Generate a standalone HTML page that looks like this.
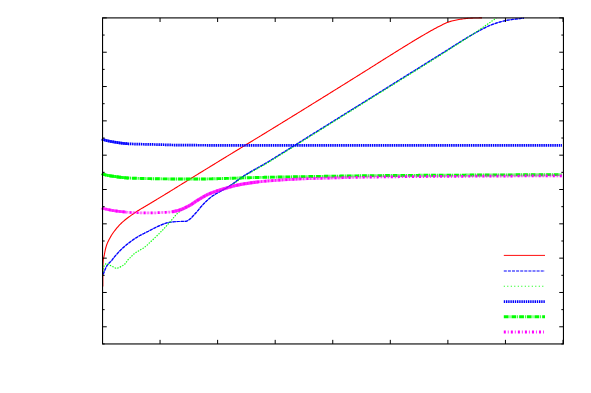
<!DOCTYPE html>
<html><head><meta charset="utf-8"><title>plot</title>
<style>
html,body{margin:0;padding:0;background:#fff;font-family:"Liberation Sans",sans-serif;}
svg{display:block;position:absolute;left:0;top:0}
</style></head>
<body>
<svg width="591" height="393" viewBox="0 0 591 393">
<rect width="591" height="393" fill="#fff"/>
<path d="M102.80,286.50 L102.80,285.28 L102.80,284.06 L102.80,282.84 L102.80,281.62 L102.80,280.40 L102.80,279.18 L102.80,277.96 L102.80,276.74 L102.80,275.52 L102.80,274.30 L102.80,273.09 L102.80,271.87 L102.80,270.65 L102.80,269.43 L102.81,268.21 L102.84,266.99 L102.88,265.76 L102.94,264.54 L103.01,263.32 L103.08,262.11 L103.17,260.90 L103.29,259.69 L103.50,258.50 L103.77,257.30 L104.06,256.11 L104.32,254.92 L104.54,253.72 L104.76,252.51 L104.98,251.31 L105.23,250.12 L105.51,248.94 L105.81,247.75 L106.15,246.58 L106.51,245.41 L106.91,244.26 L107.35,243.13 L107.85,242.02 L108.40,240.93 L108.96,239.84 L109.53,238.76 L110.11,237.69 L110.71,236.62 L111.33,235.57 L111.97,234.54 L112.65,233.53 L113.34,232.53 L114.06,231.54 L114.80,230.56 L115.56,229.60 L116.33,228.65 L117.11,227.72 L117.91,226.80 L118.72,225.89 L119.55,224.99 L120.40,224.11 L121.27,223.25 L122.15,222.41 L123.05,221.60 L123.97,220.81 L124.91,220.03 L125.86,219.27 L126.83,218.53 L127.81,217.79 L128.79,217.06 L129.78,216.34 L130.77,215.62 L131.76,214.91 L132.75,214.21 L133.75,213.51 L134.76,212.83 L135.78,212.15 L136.80,211.48 L137.82,210.82 L138.85,210.17 L139.89,209.53 L140.93,208.90 L141.98,208.28 L143.03,207.66 L144.09,207.04 L145.14,206.43 L146.19,205.81 L147.24,205.19 L148.29,204.57 L149.34,203.94 L150.38,203.31 L151.42,202.68 L152.47,202.05 L153.51,201.42 L154.56,200.79 L155.60,200.16 L156.64,199.53 L157.69,198.90 L158.73,198.26 L159.77,197.63 L160.81,197.00 L161.86,196.37 L162.90,195.73 L163.94,195.10 L164.98,194.47 L166.02,193.83 L167.07,193.20 L168.11,192.56 L169.15,191.92 L170.18,191.29 L171.22,190.65 L172.26,190.01 L173.30,189.36 L174.33,188.72 L175.37,188.08 L176.40,187.43 L177.44,186.79 L178.47,186.14 L179.51,185.50 L180.55,184.86 L181.59,184.22 L182.62,183.58 L183.66,182.94 L184.70,182.30 L185.74,181.66 L186.77,181.02 L187.81,180.38 L188.85,179.74 L189.89,179.10 L190.93,178.46 L191.96,177.82 L193.00,177.18 L194.04,176.54 L195.08,175.90 L196.12,175.26 L197.16,174.62 L198.19,173.98 L199.23,173.34 L200.27,172.71 L201.31,172.07 L202.35,171.43 L203.39,170.79 L204.43,170.15 L205.47,169.51 L206.51,168.88 L207.54,168.24 L208.58,167.60 L209.62,166.96 L210.66,166.32 L211.70,165.69 L212.74,165.05 L213.78,164.41 L214.82,163.77 L215.86,163.14 L216.90,162.50 L217.94,161.86 L218.98,161.23 L220.02,160.59 L221.06,159.95 L222.10,159.32 L223.14,158.68 L224.18,158.04 L225.22,157.41 L226.26,156.77 L227.30,156.14 L228.34,155.50 L229.38,154.87 L230.42,154.23 L231.46,153.60 L232.51,152.96 L233.55,152.33 L234.59,151.69 L235.63,151.06 L236.67,150.42 L237.71,149.79 L238.75,149.16 L239.80,148.52 L240.84,147.89 L241.88,147.25 L242.92,146.62 L243.96,145.99 L245.00,145.35 L246.05,144.72 L247.09,144.09 L248.13,143.45 L249.17,142.82 L250.21,142.19 L251.26,141.55 L252.30,140.92 L253.34,140.28 L254.38,139.65 L255.42,139.02 L256.46,138.38 L257.51,137.75 L258.55,137.11 L259.59,136.48 L260.63,135.85 L261.67,135.21 L262.71,134.58 L263.75,133.94 L264.80,133.31 L265.84,132.67 L266.88,132.04 L267.92,131.40 L268.96,130.77 L270.00,130.13 L271.04,129.49 L272.08,128.86 L273.12,128.22 L274.16,127.58 L275.20,126.95 L276.24,126.31 L277.28,125.67 L278.32,125.03 L279.36,124.40 L280.39,123.76 L281.43,123.12 L282.47,122.48 L283.51,121.84 L284.55,121.20 L285.59,120.56 L286.63,119.92 L287.66,119.28 L288.70,118.64 L289.74,118.00 L290.78,117.37 L291.82,116.73 L292.85,116.09 L293.89,115.45 L294.93,114.80 L295.97,114.16 L297.01,113.52 L298.04,112.88 L299.08,112.24 L300.12,111.60 L301.16,110.96 L302.19,110.32 L303.23,109.68 L304.27,109.04 L305.30,108.40 L306.34,107.76 L307.38,107.11 L308.42,106.47 L309.45,105.83 L310.49,105.19 L311.53,104.55 L312.56,103.90 L313.60,103.26 L314.64,102.62 L315.67,101.98 L316.71,101.34 L317.74,100.69 L318.78,100.05 L319.82,99.41 L320.85,98.76 L321.89,98.12 L322.93,97.48 L323.96,96.84 L325.00,96.19 L326.03,95.55 L327.07,94.91 L328.11,94.26 L329.14,93.62 L330.18,92.98 L331.21,92.33 L332.25,91.69 L333.28,91.04 L334.32,90.40 L335.35,89.76 L336.39,89.11 L337.43,88.47 L338.46,87.82 L339.50,87.18 L340.53,86.54 L341.57,85.89 L342.60,85.25 L343.64,84.60 L344.67,83.96 L345.71,83.31 L346.74,82.67 L347.78,82.02 L348.81,81.38 L349.85,80.73 L350.88,80.09 L351.92,79.44 L352.95,78.80 L353.99,78.15 L355.02,77.51 L356.05,76.86 L357.09,76.22 L358.12,75.57 L359.16,74.93 L360.19,74.28 L361.23,73.63 L362.26,72.99 L363.29,72.34 L364.33,71.69 L365.36,71.04 L366.39,70.40 L367.43,69.75 L368.46,69.10 L369.49,68.45 L370.52,67.80 L371.55,67.15 L372.58,66.50 L373.62,65.85 L374.65,65.20 L375.68,64.55 L376.71,63.90 L377.74,63.24 L378.77,62.59 L379.80,61.94 L380.84,61.29 L381.87,60.64 L382.90,59.99 L383.93,59.34 L384.96,58.69 L385.99,58.04 L387.03,57.39 L388.06,56.75 L389.09,56.10 L390.13,55.45 L391.16,54.80 L392.19,54.16 L393.23,53.51 L394.26,52.86 L395.30,52.22 L396.33,51.58 L397.37,50.93 L398.40,50.29 L399.44,49.65 L400.48,49.01 L401.51,48.36 L402.55,47.72 L403.59,47.08 L404.63,46.44 L405.66,45.80 L406.70,45.16 L407.74,44.52 L408.78,43.89 L409.82,43.25 L410.86,42.61 L411.90,41.98 L412.94,41.34 L413.99,40.71 L415.03,40.08 L416.07,39.45 L417.12,38.83 L418.17,38.20 L419.22,37.58 L420.27,36.96 L421.32,36.34 L422.37,35.73 L423.42,35.11 L424.48,34.50 L425.53,33.89 L426.59,33.28 L427.64,32.67 L428.70,32.06 L429.76,31.45 L430.82,30.85 L431.89,30.26 L432.96,29.67 L434.03,29.09 L435.10,28.51 L436.17,27.93 L437.25,27.36 L438.33,26.79 L439.42,26.24 L440.51,25.70 L441.60,25.15 L442.69,24.59 L443.79,24.04 L444.89,23.51 L446.00,23.00 L447.12,22.53 L448.26,22.11 L449.41,21.74 L450.58,21.40 L451.75,21.08 L452.94,20.78 L454.14,20.50 L455.33,20.24 L456.52,19.99 L457.72,19.76 L458.92,19.53 L460.12,19.32 L461.33,19.13 L462.53,18.96 L463.74,18.81 L464.95,18.66 L466.16,18.51 L467.38,18.39 L468.59,18.28 L469.81,18.21 L471.03,18.16 L472.24,18.11 L473.46,18.07 L474.68,18.03 L475.90,17.99 L477.12,17.96 L478.34,17.93 L479.56,17.92 L480.78,17.90 L482.00,17.90" fill="none" stroke="#ff0000" stroke-width="1.1"/>
<path d="M103.30,274.40 L103.66,273.19 L104.07,271.99 L104.52,270.82 L104.99,269.66 L105.50,268.52 L106.04,267.38 L106.64,266.27 L107.30,265.20 L108.03,264.21 L108.87,263.28 L109.77,262.39 L110.67,261.49 L111.52,260.56 L112.32,259.60 L113.10,258.61 L113.88,257.62 L114.67,256.65 L115.49,255.70 L116.31,254.74 L117.14,253.80 L117.97,252.86 L118.82,251.93 L119.69,251.02 L120.57,250.13 L121.46,249.26 L122.38,248.40 L123.31,247.55 L124.25,246.71 L125.20,245.89 L126.16,245.08 L127.14,244.28 L128.12,243.50 L129.11,242.73 L130.10,241.97 L131.11,241.22 L132.13,240.48 L133.16,239.75 L134.20,239.04 L135.25,238.34 L136.30,237.66 L137.37,237.00 L138.44,236.36 L139.53,235.74 L140.63,235.14 L141.74,234.56 L142.86,233.98 L143.98,233.42 L145.11,232.85 L146.23,232.29 L147.36,231.73 L148.48,231.16 L149.60,230.58 L150.71,230.00 L151.82,229.41 L152.94,228.82 L154.05,228.24 L155.17,227.67 L156.30,227.12 L157.44,226.58 L158.58,226.08 L159.73,225.59 L160.89,225.09 L162.06,224.59 L163.24,224.11 L164.42,223.65 L165.61,223.25 L166.81,222.90 L168.02,222.63 L169.24,222.42 L170.47,222.23 L171.72,222.05 L172.97,221.88 L174.23,221.74 L175.49,221.63 L176.74,221.55 L178.00,221.50 L179.26,221.48 L180.53,221.47 L181.81,221.46 L183.07,221.45 L184.32,221.43 L185.53,221.40 L186.73,221.08 L187.88,220.48 L188.95,219.84 L189.96,219.08 L190.90,218.26 L191.78,217.36 L192.63,216.43 L193.49,215.50 L194.34,214.58 L195.19,213.66 L196.04,212.73 L196.88,211.80 L197.70,210.85 L198.51,209.89 L199.30,208.91 L200.09,207.94 L200.89,206.96 L201.70,206.00 L202.53,205.07 L203.38,204.15 L204.25,203.24 L205.14,202.34 L206.03,201.46 L206.95,200.59 L207.87,199.76 L208.82,198.93 L209.79,198.12 L210.77,197.33 L211.77,196.57 L212.79,195.84 L213.83,195.15 L214.90,194.49 L215.98,193.85 L217.07,193.22 L218.16,192.59 L219.25,191.98 L220.36,191.37 L221.46,190.78 L222.57,190.18 L223.67,189.57 L224.76,188.95 L225.83,188.30 L226.90,187.64 L227.96,186.97 L229.02,186.29 L230.07,185.61 L231.12,184.91 L232.16,184.21 L233.20,183.51 L234.24,182.80 L235.26,182.07 L236.28,181.33 L237.29,180.58 L238.29,179.82 L239.30,179.07 L240.31,178.32 L241.33,177.59 L242.35,176.87 L243.40,176.17 L244.45,175.49 L245.51,174.83 L246.59,174.18 L247.66,173.53 L248.75,172.89 L249.83,172.26 L250.92,171.63 L252.01,171.00 L253.10,170.37 L254.19,169.75 L255.28,169.13 L256.38,168.52 L257.48,167.91 L258.58,167.31 L259.68,166.70 L260.78,166.10 L261.88,165.48 L262.97,164.87 L264.06,164.25 L265.15,163.61 L266.23,162.98 L267.30,162.33 L268.38,161.68 L269.45,161.03 L270.52,160.37 L271.59,159.71 L272.65,159.04 L273.72,158.38 L274.78,157.71 L275.85,157.04 L276.91,156.38 L277.98,155.71 L279.04,155.04 L280.11,154.38 L281.18,153.72 L282.24,153.06 L283.31,152.39 L284.37,151.73 L285.44,151.07 L286.51,150.40 L287.57,149.74 L288.64,149.07 L289.70,148.41 L290.77,147.74 L291.83,147.08 L292.90,146.41 L293.96,145.74 L295.03,145.08 L296.09,144.41 L297.16,143.75 L298.22,143.08 L299.29,142.42 L300.35,141.75 L301.42,141.09 L302.49,140.42 L303.55,139.76 L304.62,139.09 L305.68,138.43 L306.75,137.77 L307.81,137.10 L308.88,136.44 L309.94,135.77 L311.01,135.11 L312.08,134.44 L313.14,133.78 L314.21,133.11 L315.27,132.45 L316.34,131.78 L317.40,131.12 L318.47,130.45 L319.53,129.79 L320.60,129.13 L321.67,128.46 L322.73,127.80 L323.80,127.13 L324.86,126.47 L325.93,125.80 L326.99,125.14 L328.06,124.47 L329.13,123.81 L330.19,123.14 L331.26,122.48 L332.32,121.81 L333.39,121.15 L334.45,120.49 L335.52,119.82 L336.58,119.16 L337.65,118.49 L338.72,117.83 L339.78,117.16 L340.85,116.50 L341.91,115.83 L342.98,115.17 L344.04,114.50 L345.11,113.84 L346.17,113.17 L347.24,112.51 L348.31,111.85 L349.37,111.18 L350.44,110.52 L351.50,109.85 L352.57,109.19 L353.63,108.52 L354.70,107.86 L355.77,107.19 L356.83,106.53 L357.90,105.86 L358.96,105.20 L360.03,104.53 L361.09,103.87 L362.16,103.21 L363.22,102.54 L364.29,101.88 L365.36,101.21 L366.42,100.55 L367.49,99.88 L368.55,99.22 L369.62,98.55 L370.68,97.89 L371.75,97.22 L372.81,96.56 L373.88,95.89 L374.95,95.23 L376.01,94.57 L377.08,93.90 L378.14,93.24 L379.21,92.57 L380.27,91.91 L381.34,91.24 L382.41,90.58 L383.47,89.91 L384.54,89.25 L385.60,88.58 L386.67,87.92 L387.73,87.25 L388.80,86.59 L389.86,85.93 L390.93,85.26 L392.00,84.60 L393.06,83.93 L394.13,83.27 L395.19,82.60 L396.26,81.94 L397.32,81.27 L398.39,80.61 L399.45,79.94 L400.52,79.28 L401.59,78.62 L402.65,77.95 L403.72,77.29 L404.78,76.62 L405.85,75.96 L406.91,75.29 L407.98,74.63 L409.04,73.96 L410.11,73.30 L411.18,72.63 L412.24,71.97 L413.31,71.30 L414.37,70.64 L415.44,69.98 L416.50,69.31 L417.57,68.65 L418.64,67.98 L419.70,67.32 L420.77,66.65 L421.83,65.99 L422.90,65.32 L423.96,64.66 L425.03,63.99 L426.09,63.33 L427.16,62.66 L428.23,62.00 L429.29,61.34 L430.36,60.67 L431.42,60.01 L432.49,59.34 L433.55,58.68 L434.62,58.01 L435.68,57.35 L436.75,56.68 L437.82,56.02 L438.88,55.35 L439.95,54.69 L441.01,54.02 L442.08,53.36 L443.14,52.69 L444.20,52.02 L445.26,51.34 L446.32,50.67 L447.38,50.00 L448.44,49.32 L449.50,48.65 L450.56,47.97 L451.62,47.30 L452.68,46.62 L453.74,45.95 L454.80,45.27 L455.86,44.60 L456.93,43.93 L457.99,43.26 L459.05,42.59 L460.12,41.93 L461.19,41.27 L462.25,40.60 L463.32,39.95 L464.39,39.29 L465.47,38.64 L466.54,37.99 L467.62,37.35 L468.70,36.71 L469.78,36.07 L470.86,35.44 L471.95,34.81 L473.04,34.18 L474.13,33.55 L475.22,32.93 L476.31,32.31 L477.41,31.70 L478.51,31.10 L479.62,30.50 L480.73,29.91 L481.84,29.33 L482.96,28.77 L484.08,28.20 L485.21,27.64 L486.34,27.09 L487.47,26.55 L488.62,26.02 L489.77,25.52 L490.93,25.05 L492.09,24.59 L493.27,24.15 L494.45,23.72 L495.64,23.31 L496.84,22.91 L498.04,22.54 L499.24,22.19 L500.45,21.86 L501.66,21.54 L502.88,21.23 L504.11,20.94 L505.33,20.66 L506.57,20.41 L507.80,20.18 L509.03,19.97 L510.27,19.78 L511.52,19.59 L512.76,19.42 L514.01,19.26 L515.26,19.10 L516.50,18.95 L517.75,18.81 L519.00,18.67 L520.25,18.54 L521.50,18.42 L522.75,18.31 L524.00,18.20" fill="none" stroke="#0000ff" stroke-width="1.15" stroke-opacity="0.55"/>
<path d="M103.30,274.40 L103.66,273.19 L104.07,271.99 L104.52,270.82 L104.99,269.66 L105.50,268.52 L106.04,267.38 L106.64,266.27 L107.30,265.20 L108.03,264.21 L108.87,263.28 L109.77,262.39 L110.67,261.49 L111.52,260.56 L112.32,259.60 L113.10,258.61 L113.88,257.62 L114.67,256.65 L115.49,255.70 L116.31,254.74 L117.14,253.80 L117.97,252.86 L118.82,251.93 L119.69,251.02 L120.57,250.13 L121.46,249.26 L122.38,248.40 L123.31,247.55 L124.25,246.71 L125.20,245.89 L126.16,245.08 L127.14,244.28 L128.12,243.50 L129.11,242.73 L130.10,241.97 L131.11,241.22 L132.13,240.48 L133.16,239.75 L134.20,239.04 L135.25,238.34 L136.30,237.66 L137.37,237.00 L138.44,236.36 L139.53,235.74 L140.63,235.14 L141.74,234.56 L142.86,233.98 L143.98,233.42 L145.11,232.85 L146.23,232.29 L147.36,231.73 L148.48,231.16 L149.60,230.58 L150.71,230.00 L151.82,229.41 L152.94,228.82 L154.05,228.24 L155.17,227.67 L156.30,227.12 L157.44,226.58 L158.58,226.08 L159.73,225.59 L160.89,225.09 L162.06,224.59 L163.24,224.11 L164.42,223.65 L165.61,223.25 L166.81,222.90 L168.02,222.63 L169.24,222.42 L170.47,222.23 L171.72,222.05 L172.97,221.88 L174.23,221.74 L175.49,221.63 L176.74,221.55 L178.00,221.50 L179.26,221.48 L180.53,221.47 L181.81,221.46 L183.07,221.45 L184.32,221.43 L185.53,221.40 L186.73,221.08 L187.88,220.48 L188.95,219.84 L189.96,219.08 L190.90,218.26 L191.78,217.36 L192.63,216.43 L193.49,215.50 L194.34,214.58 L195.19,213.66 L196.04,212.73 L196.88,211.80 L197.70,210.85 L198.51,209.89 L199.30,208.91 L200.09,207.94 L200.89,206.96 L201.70,206.00 L202.53,205.07 L203.38,204.15 L204.25,203.24 L205.14,202.34 L206.03,201.46 L206.95,200.59 L207.87,199.76 L208.82,198.93 L209.79,198.12 L210.77,197.33 L211.77,196.57 L212.79,195.84 L213.83,195.15 L214.90,194.49 L215.98,193.85 L217.07,193.22 L218.16,192.59 L219.25,191.98 L220.36,191.37 L221.46,190.78 L222.57,190.18 L223.67,189.57 L224.76,188.95 L225.83,188.30 L226.90,187.64 L227.96,186.97 L229.02,186.29 L230.07,185.61 L231.12,184.91 L232.16,184.21 L233.20,183.51 L234.24,182.80 L235.26,182.07 L236.28,181.33 L237.29,180.58 L238.29,179.82 L239.30,179.07 L240.31,178.32 L241.33,177.59 L242.35,176.87 L243.40,176.17 L244.45,175.49 L245.51,174.83 L246.59,174.18 L247.66,173.53 L248.75,172.89 L249.83,172.26 L250.92,171.63 L252.01,171.00 L253.10,170.37 L254.19,169.75 L255.28,169.13 L256.38,168.52 L257.48,167.91 L258.58,167.31 L259.68,166.70 L260.78,166.10 L261.88,165.48 L262.97,164.87 L264.06,164.25 L265.15,163.61 L266.23,162.98 L267.30,162.33 L268.38,161.68 L269.45,161.03 L270.52,160.37 L271.59,159.71 L272.65,159.04 L273.72,158.38 L274.78,157.71 L275.85,157.04 L276.91,156.38 L277.98,155.71 L279.04,155.04 L280.11,154.38 L281.18,153.72 L282.24,153.06 L283.31,152.39 L284.37,151.73 L285.44,151.07 L286.51,150.40 L287.57,149.74 L288.64,149.07 L289.70,148.41 L290.77,147.74 L291.83,147.08 L292.90,146.41 L293.96,145.74 L295.03,145.08 L296.09,144.41 L297.16,143.75 L298.22,143.08 L299.29,142.42 L300.35,141.75 L301.42,141.09 L302.49,140.42 L303.55,139.76 L304.62,139.09 L305.68,138.43 L306.75,137.77 L307.81,137.10 L308.88,136.44 L309.94,135.77 L311.01,135.11 L312.08,134.44 L313.14,133.78 L314.21,133.11 L315.27,132.45 L316.34,131.78 L317.40,131.12 L318.47,130.45 L319.53,129.79 L320.60,129.13 L321.67,128.46 L322.73,127.80 L323.80,127.13 L324.86,126.47 L325.93,125.80 L326.99,125.14 L328.06,124.47 L329.13,123.81 L330.19,123.14 L331.26,122.48 L332.32,121.81 L333.39,121.15 L334.45,120.49 L335.52,119.82 L336.58,119.16 L337.65,118.49 L338.72,117.83 L339.78,117.16 L340.85,116.50 L341.91,115.83 L342.98,115.17 L344.04,114.50 L345.11,113.84 L346.17,113.17 L347.24,112.51 L348.31,111.85 L349.37,111.18 L350.44,110.52 L351.50,109.85 L352.57,109.19 L353.63,108.52 L354.70,107.86 L355.77,107.19 L356.83,106.53 L357.90,105.86 L358.96,105.20 L360.03,104.53 L361.09,103.87 L362.16,103.21 L363.22,102.54 L364.29,101.88 L365.36,101.21 L366.42,100.55 L367.49,99.88 L368.55,99.22 L369.62,98.55 L370.68,97.89 L371.75,97.22 L372.81,96.56 L373.88,95.89 L374.95,95.23 L376.01,94.57 L377.08,93.90 L378.14,93.24 L379.21,92.57 L380.27,91.91 L381.34,91.24 L382.41,90.58 L383.47,89.91 L384.54,89.25 L385.60,88.58 L386.67,87.92 L387.73,87.25 L388.80,86.59 L389.86,85.93 L390.93,85.26 L392.00,84.60 L393.06,83.93 L394.13,83.27 L395.19,82.60 L396.26,81.94 L397.32,81.27 L398.39,80.61 L399.45,79.94 L400.52,79.28 L401.59,78.62 L402.65,77.95 L403.72,77.29 L404.78,76.62 L405.85,75.96 L406.91,75.29 L407.98,74.63 L409.04,73.96 L410.11,73.30 L411.18,72.63 L412.24,71.97 L413.31,71.30 L414.37,70.64 L415.44,69.98 L416.50,69.31 L417.57,68.65 L418.64,67.98 L419.70,67.32 L420.77,66.65 L421.83,65.99 L422.90,65.32 L423.96,64.66 L425.03,63.99 L426.09,63.33 L427.16,62.66 L428.23,62.00 L429.29,61.34 L430.36,60.67 L431.42,60.01 L432.49,59.34 L433.55,58.68 L434.62,58.01 L435.68,57.35 L436.75,56.68 L437.82,56.02 L438.88,55.35 L439.95,54.69 L441.01,54.02 L442.08,53.36 L443.14,52.69 L444.20,52.02 L445.26,51.34 L446.32,50.67 L447.38,50.00 L448.44,49.32 L449.50,48.65 L450.56,47.97 L451.62,47.30 L452.68,46.62 L453.74,45.95 L454.80,45.27 L455.86,44.60 L456.93,43.93 L457.99,43.26 L459.05,42.59 L460.12,41.93 L461.19,41.27 L462.25,40.60 L463.32,39.95 L464.39,39.29 L465.47,38.64 L466.54,37.99 L467.62,37.35 L468.70,36.71 L469.78,36.07 L470.86,35.44 L471.95,34.81 L473.04,34.18 L474.13,33.55 L475.22,32.93 L476.31,32.31 L477.41,31.70 L478.51,31.10 L479.62,30.50 L480.73,29.91 L481.84,29.33 L482.96,28.77 L484.08,28.20 L485.21,27.64 L486.34,27.09 L487.47,26.55 L488.62,26.02 L489.77,25.52 L490.93,25.05 L492.09,24.59 L493.27,24.15 L494.45,23.72 L495.64,23.31 L496.84,22.91 L498.04,22.54 L499.24,22.19 L500.45,21.86 L501.66,21.54 L502.88,21.23 L504.11,20.94 L505.33,20.66 L506.57,20.41 L507.80,20.18 L509.03,19.97 L510.27,19.78 L511.52,19.59 L512.76,19.42 L514.01,19.26 L515.26,19.10 L516.50,18.95 L517.75,18.81 L519.00,18.67 L520.25,18.54 L521.50,18.42 L522.75,18.31 L524.00,18.20" fill="none" stroke="#0000ff" stroke-width="1.2" stroke-dasharray="3 1.1"/>
<path d="M102.90,272.00 L102.96,270.64 L103.11,269.37 L103.35,268.19 L103.66,267.09 L104.03,266.08 L104.60,265.04 L105.54,264.05 L106.55,263.71 L107.61,264.07 L108.73,264.70 L109.84,265.26 L110.92,265.76 L112.01,266.27 L113.10,266.81 L114.18,267.45 L115.27,268.02 L116.37,268.30 L117.49,268.16 L118.62,267.75 L119.75,267.19 L120.84,266.63 L121.91,266.08 L122.97,265.47 L123.97,264.79 L124.86,264.05 L125.64,263.18 L126.34,262.21 L127.02,261.18 L127.71,260.18 L128.46,259.24 L129.31,258.41 L130.22,257.62 L131.10,256.81 L131.95,255.95 L132.78,255.08 L133.63,254.24 L134.53,253.46 L135.48,252.76 L136.49,252.11 L137.52,251.49 L138.56,250.88 L139.59,250.27 L140.64,249.67 L141.69,249.09 L142.73,248.49 L143.73,247.85 L144.68,247.15 L145.61,246.40 L146.51,245.62 L147.40,244.82 L148.28,243.99 L149.15,243.15 L150.02,242.31 L150.89,241.48 L151.76,240.66 L152.64,239.85 L153.51,239.03 L154.38,238.20 L155.25,237.38 L156.11,236.55 L156.97,235.72 L157.83,234.88 L158.69,234.04 L159.54,233.20 L160.38,232.35 L161.22,231.50 L162.06,230.64 L162.89,229.78 L163.71,228.91 L164.53,228.03 L165.34,227.15 L166.15,226.27 L166.96,225.38 L167.76,224.49 L168.56,223.60 L169.36,222.71 L170.16,221.82 L170.95,220.91 L171.72,219.98 L172.48,219.03 L173.24,218.09 L174.00,217.15 L174.78,216.22 L175.56,215.32 L176.37,214.44 L177.21,213.61 L178.08,212.84 L178.98,212.10 L179.93,211.40 L180.91,210.73 L181.91,210.08 L182.94,209.44 L183.98,208.82 L185.02,208.20 L186.07,207.59 L187.11,206.97 L188.14,206.34 L189.15,205.70 L190.16,205.05 L191.16,204.38 L192.16,203.72 L193.16,203.06 L194.16,202.40 L195.16,201.75 L196.17,201.11 L197.19,200.48 L198.22,199.87 L199.26,199.27 L200.30,198.67 L201.34,198.08 L202.39,197.50 L203.45,196.93 L204.51,196.37 L205.58,195.83 L206.66,195.31 L207.74,194.81 L208.83,194.33 L209.94,193.87 L211.05,193.43 L212.17,193.00 L213.30,192.59 L214.43,192.19 L215.57,191.81 L216.72,191.47 L217.88,191.14 L219.05,190.83 L220.22,190.53 L221.39,190.21 L222.53,189.87 L223.66,189.51 L224.76,189.10 L225.83,188.63 L226.88,188.09 L227.91,187.49 L228.93,186.85 L229.94,186.18 L230.93,185.48 L231.93,184.79 L232.92,184.09 L233.92,183.42 L234.91,182.75 L235.89,182.06 L236.86,181.37 L237.83,180.66 L238.80,179.96 L239.77,179.25 L240.75,178.56 L241.73,177.87 L242.72,177.21 L243.73,176.56 L244.75,175.93 L245.77,175.31 L246.80,174.70 L247.83,174.09 L248.87,173.49 L249.91,172.90 L250.95,172.30 L251.99,171.71 L253.03,171.11 L254.07,170.52 L255.12,169.93 L256.16,169.35 L257.21,168.77 L258.26,168.19 L259.31,167.61 L260.36,167.03 L261.40,166.45 L262.45,165.86 L263.49,165.27 L264.53,164.68 L265.56,164.07 L266.59,163.46 L267.62,162.85 L268.64,162.23 L269.67,161.61 L270.69,160.98 L271.71,160.35 L272.73,159.72 L273.74,159.09 L274.76,158.46 L275.78,157.82 L276.79,157.19 L277.81,156.56 L278.83,155.92 L279.85,155.29 L280.86,154.66 L281.88,154.03 L282.90,153.40 L283.92,152.77 L284.93,152.14 L285.95,151.50 L286.97,150.87 L287.98,150.23 L289.00,149.60 L290.01,148.97 L291.03,148.33 L292.05,147.70 L293.06,147.06 L294.08,146.43 L295.09,145.79 L296.11,145.16 L297.12,144.52 L298.14,143.89 L299.15,143.25 L300.17,142.62 L301.19,141.98 L302.20,141.35 L303.22,140.72 L304.24,140.08 L305.25,139.45 L306.27,138.81 L307.28,138.18 L308.30,137.55 L309.32,136.91 L310.33,136.28 L311.35,135.65 L312.36,135.01 L313.38,134.38 L314.40,133.74 L315.41,133.11 L316.43,132.48 L317.45,131.84 L318.46,131.21 L319.48,130.58 L320.49,129.94 L321.51,129.31 L322.53,128.67 L323.54,128.04 L324.56,127.41 L325.58,126.77 L326.59,126.14 L327.61,125.51 L328.62,124.87 L329.64,124.24 L330.66,123.60 L331.67,122.97 L332.69,122.34 L333.70,121.70 L334.72,121.07 L335.74,120.43 L336.75,119.80 L337.77,119.17 L338.79,118.53 L339.80,117.90 L340.82,117.27 L341.83,116.63 L342.85,116.00 L343.87,115.36 L344.88,114.73 L345.90,114.10 L346.92,113.46 L347.93,112.83 L348.95,112.20 L349.96,111.56 L350.98,110.93 L352.00,110.29 L353.01,109.66 L354.03,109.03 L355.04,108.39 L356.06,107.76 L357.08,107.12 L358.09,106.49 L359.11,105.86 L360.13,105.22 L361.14,104.59 L362.16,103.96 L363.17,103.32 L364.19,102.69 L365.21,102.05 L366.22,101.42 L367.24,100.79 L368.26,100.15 L369.27,99.52 L370.29,98.89 L371.30,98.25 L372.32,97.62 L373.34,96.98 L374.35,96.35 L375.37,95.72 L376.39,95.08 L377.40,94.45 L378.42,93.82 L379.43,93.18 L380.45,92.55 L381.47,91.91 L382.48,91.28 L383.50,90.65 L384.52,90.01 L385.53,89.38 L386.55,88.75 L387.57,88.12 L388.58,87.48 L389.60,86.85 L390.62,86.22 L391.64,85.59 L392.65,84.96 L393.67,84.33 L394.69,83.69 L395.71,83.06 L396.72,82.43 L397.74,81.80 L398.76,81.17 L399.78,80.54 L400.80,79.91 L401.81,79.27 L402.83,78.64 L403.85,78.01 L404.87,77.38 L405.88,76.75 L406.90,76.12 L407.92,75.48 L408.94,74.85 L409.95,74.22 L410.97,73.59 L411.99,72.96 L413.01,72.32 L414.02,71.69 L415.04,71.06 L416.06,70.43 L417.07,69.79 L418.09,69.16 L419.11,68.53 L420.12,67.89 L421.14,67.26 L422.15,66.63 L423.17,65.99 L424.19,65.36 L425.20,64.72 L426.22,64.09 L427.23,63.45 L428.25,62.81 L429.26,62.18 L430.27,61.54 L431.29,60.90 L432.30,60.27 L433.32,59.63 L434.33,58.99 L435.34,58.35 L436.36,57.71 L437.37,57.07 L438.38,56.43 L439.39,55.79 L440.40,55.15 L441.41,54.51 L442.43,53.87 L443.44,53.22 L444.45,52.58 L445.46,51.93 L446.46,51.29 L447.47,50.64 L448.48,50.00 L449.49,49.35 L450.50,48.71 L451.51,48.06 L452.51,47.41 L453.52,46.76 L454.53,46.11 L455.53,45.47 L456.54,44.82 L457.55,44.17 L458.55,43.52 L459.56,42.87 L460.56,42.22 L461.57,41.57 L462.58,40.92 L463.58,40.27 L464.59,39.62 L465.60,38.97 L466.60,38.32 L467.61,37.67 L468.61,37.02 L469.62,36.36 L470.62,35.71 L471.62,35.05 L472.62,34.39 L473.61,33.72 L474.61,33.06 L475.60,32.39 L476.59,31.71 L477.58,31.03 L478.56,30.36 L479.55,29.67 L480.53,28.99 L481.52,28.31 L482.50,27.63 L483.49,26.95 L484.47,26.26 L485.46,25.58 L486.44,24.90 L487.43,24.22 L488.42,23.55 L489.40,22.86 L490.39,22.18 L491.37,21.50 L492.36,20.82 L493.34,20.14 L494.33,19.46 L495.31,18.78 L496.30,18.10" fill="none" stroke="#00ff00" stroke-width="1.0" stroke-opacity="0.15"/>
<path d="M102.90,272.00 L102.96,270.64 L103.11,269.37 L103.35,268.19 L103.66,267.09 L104.03,266.08 L104.60,265.04 L105.54,264.05 L106.55,263.71 L107.61,264.07 L108.73,264.70 L109.84,265.26 L110.92,265.76 L112.01,266.27 L113.10,266.81 L114.18,267.45 L115.27,268.02 L116.37,268.30 L117.49,268.16 L118.62,267.75 L119.75,267.19 L120.84,266.63 L121.91,266.08 L122.97,265.47 L123.97,264.79 L124.86,264.05 L125.64,263.18 L126.34,262.21 L127.02,261.18 L127.71,260.18 L128.46,259.24 L129.31,258.41 L130.22,257.62 L131.10,256.81 L131.95,255.95 L132.78,255.08 L133.63,254.24 L134.53,253.46 L135.48,252.76 L136.49,252.11 L137.52,251.49 L138.56,250.88 L139.59,250.27 L140.64,249.67 L141.69,249.09 L142.73,248.49 L143.73,247.85 L144.68,247.15 L145.61,246.40 L146.51,245.62 L147.40,244.82 L148.28,243.99 L149.15,243.15 L150.02,242.31 L150.89,241.48 L151.76,240.66 L152.64,239.85 L153.51,239.03 L154.38,238.20 L155.25,237.38 L156.11,236.55 L156.97,235.72 L157.83,234.88 L158.69,234.04 L159.54,233.20 L160.38,232.35 L161.22,231.50 L162.06,230.64 L162.89,229.78 L163.71,228.91 L164.53,228.03 L165.34,227.15 L166.15,226.27 L166.96,225.38 L167.76,224.49 L168.56,223.60 L169.36,222.71 L170.16,221.82 L170.95,220.91 L171.72,219.98 L172.48,219.03 L173.24,218.09 L174.00,217.15 L174.78,216.22 L175.56,215.32 L176.37,214.44 L177.21,213.61 L178.08,212.84 L178.98,212.10 L179.93,211.40 L180.91,210.73 L181.91,210.08 L182.94,209.44 L183.98,208.82 L185.02,208.20 L186.07,207.59 L187.11,206.97 L188.14,206.34 L189.15,205.70 L190.16,205.05 L191.16,204.38 L192.16,203.72 L193.16,203.06 L194.16,202.40 L195.16,201.75 L196.17,201.11 L197.19,200.48 L198.22,199.87 L199.26,199.27 L200.30,198.67 L201.34,198.08 L202.39,197.50 L203.45,196.93 L204.51,196.37 L205.58,195.83 L206.66,195.31 L207.74,194.81 L208.83,194.33 L209.94,193.87 L211.05,193.43 L212.17,193.00 L213.30,192.59 L214.43,192.19 L215.57,191.81 L216.72,191.47 L217.88,191.14 L219.05,190.83 L220.22,190.53 L221.39,190.21 L222.53,189.87 L223.66,189.51 L224.76,189.10 L225.83,188.63 L226.88,188.09 L227.91,187.49 L228.93,186.85 L229.94,186.18 L230.93,185.48 L231.93,184.79 L232.92,184.09 L233.92,183.42 L234.91,182.75 L235.89,182.06 L236.86,181.37 L237.83,180.66 L238.80,179.96 L239.77,179.25 L240.75,178.56 L241.73,177.87 L242.72,177.21 L243.73,176.56 L244.75,175.93 L245.77,175.31 L246.80,174.70 L247.83,174.09 L248.87,173.49 L249.91,172.90 L250.95,172.30 L251.99,171.71 L253.03,171.11 L254.07,170.52 L255.12,169.93 L256.16,169.35 L257.21,168.77 L258.26,168.19 L259.31,167.61 L260.36,167.03 L261.40,166.45 L262.45,165.86 L263.49,165.27 L264.53,164.68 L265.56,164.07 L266.59,163.46 L267.62,162.85 L268.64,162.23 L269.67,161.61 L270.69,160.98 L271.71,160.35 L272.73,159.72 L273.74,159.09 L274.76,158.46 L275.78,157.82 L276.79,157.19 L277.81,156.56 L278.83,155.92 L279.85,155.29 L280.86,154.66 L281.88,154.03 L282.90,153.40 L283.92,152.77 L284.93,152.14 L285.95,151.50 L286.97,150.87 L287.98,150.23 L289.00,149.60 L290.01,148.97 L291.03,148.33 L292.05,147.70 L293.06,147.06 L294.08,146.43 L295.09,145.79 L296.11,145.16 L297.12,144.52 L298.14,143.89 L299.15,143.25 L300.17,142.62 L301.19,141.98 L302.20,141.35 L303.22,140.72 L304.24,140.08 L305.25,139.45 L306.27,138.81 L307.28,138.18 L308.30,137.55 L309.32,136.91 L310.33,136.28 L311.35,135.65 L312.36,135.01 L313.38,134.38 L314.40,133.74 L315.41,133.11 L316.43,132.48 L317.45,131.84 L318.46,131.21 L319.48,130.58 L320.49,129.94 L321.51,129.31 L322.53,128.67 L323.54,128.04 L324.56,127.41 L325.58,126.77 L326.59,126.14 L327.61,125.51 L328.62,124.87 L329.64,124.24 L330.66,123.60 L331.67,122.97 L332.69,122.34 L333.70,121.70 L334.72,121.07 L335.74,120.43 L336.75,119.80 L337.77,119.17 L338.79,118.53 L339.80,117.90 L340.82,117.27 L341.83,116.63 L342.85,116.00 L343.87,115.36 L344.88,114.73 L345.90,114.10 L346.92,113.46 L347.93,112.83 L348.95,112.20 L349.96,111.56 L350.98,110.93 L352.00,110.29 L353.01,109.66 L354.03,109.03 L355.04,108.39 L356.06,107.76 L357.08,107.12 L358.09,106.49 L359.11,105.86 L360.13,105.22 L361.14,104.59 L362.16,103.96 L363.17,103.32 L364.19,102.69 L365.21,102.05 L366.22,101.42 L367.24,100.79 L368.26,100.15 L369.27,99.52 L370.29,98.89 L371.30,98.25 L372.32,97.62 L373.34,96.98 L374.35,96.35 L375.37,95.72 L376.39,95.08 L377.40,94.45 L378.42,93.82 L379.43,93.18 L380.45,92.55 L381.47,91.91 L382.48,91.28 L383.50,90.65 L384.52,90.01 L385.53,89.38 L386.55,88.75 L387.57,88.12 L388.58,87.48 L389.60,86.85 L390.62,86.22 L391.64,85.59 L392.65,84.96 L393.67,84.33 L394.69,83.69 L395.71,83.06 L396.72,82.43 L397.74,81.80 L398.76,81.17 L399.78,80.54 L400.80,79.91 L401.81,79.27 L402.83,78.64 L403.85,78.01 L404.87,77.38 L405.88,76.75 L406.90,76.12 L407.92,75.48 L408.94,74.85 L409.95,74.22 L410.97,73.59 L411.99,72.96 L413.01,72.32 L414.02,71.69 L415.04,71.06 L416.06,70.43 L417.07,69.79 L418.09,69.16 L419.11,68.53 L420.12,67.89 L421.14,67.26 L422.15,66.63 L423.17,65.99 L424.19,65.36 L425.20,64.72 L426.22,64.09 L427.23,63.45 L428.25,62.81 L429.26,62.18 L430.27,61.54 L431.29,60.90 L432.30,60.27 L433.32,59.63 L434.33,58.99 L435.34,58.35 L436.36,57.71 L437.37,57.07 L438.38,56.43 L439.39,55.79 L440.40,55.15 L441.41,54.51 L442.43,53.87 L443.44,53.22 L444.45,52.58 L445.46,51.93 L446.46,51.29 L447.47,50.64 L448.48,50.00 L449.49,49.35 L450.50,48.71 L451.51,48.06 L452.51,47.41 L453.52,46.76 L454.53,46.11 L455.53,45.47 L456.54,44.82 L457.55,44.17 L458.55,43.52 L459.56,42.87 L460.56,42.22 L461.57,41.57 L462.58,40.92 L463.58,40.27 L464.59,39.62 L465.60,38.97 L466.60,38.32 L467.61,37.67 L468.61,37.02 L469.62,36.36 L470.62,35.71 L471.62,35.05 L472.62,34.39 L473.61,33.72 L474.61,33.06 L475.60,32.39 L476.59,31.71 L477.58,31.03 L478.56,30.36 L479.55,29.67 L480.53,28.99 L481.52,28.31 L482.50,27.63 L483.49,26.95 L484.47,26.26 L485.46,25.58 L486.44,24.90 L487.43,24.22 L488.42,23.55 L489.40,22.86 L490.39,22.18 L491.37,21.50 L492.36,20.82 L493.34,20.14 L494.33,19.46 L495.31,18.78 L496.30,18.10" fill="none" stroke="#00ff00" stroke-width="1.15" stroke-dasharray="1.2 1.5"/>
<path d="M101.80,139.00 L102.95,139.43 L104.11,139.83 L105.26,140.20 L106.41,140.51 L107.57,140.79 L108.72,141.05 L109.87,141.29 L111.03,141.51 L112.18,141.71 L113.33,141.91 L114.49,142.09 L115.64,142.28 L116.79,142.46 L117.95,142.64 L119.10,142.81 L120.25,142.98 L121.41,143.13 L122.56,143.28 L123.71,143.41 L124.87,143.53 L126.02,143.64 L127.17,143.72 L128.33,143.79 L129.48,143.84 L130.63,143.89 L131.79,143.94 L132.94,143.98 L134.09,144.02 L135.25,144.06 L136.40,144.10 L137.55,144.13 L138.71,144.16 L139.86,144.19 L141.02,144.22 L142.17,144.24 L143.32,144.27 L144.48,144.29 L145.63,144.32 L146.78,144.34 L147.94,144.36 L149.09,144.38 L150.24,144.41 L151.40,144.43 L152.55,144.45 L153.70,144.48 L154.86,144.50 L156.01,144.53 L157.16,144.55 L158.32,144.58 L159.47,144.61 L160.62,144.65 L161.78,144.68 L162.93,144.72 L164.08,144.75 L165.24,144.79 L166.39,144.83 L167.54,144.86 L168.70,144.90 L169.85,144.94 L171.00,144.97 L172.16,145.00 L173.31,145.03 L174.46,145.05 L175.62,145.07 L176.77,145.09 L177.92,145.10 L179.08,145.11 L180.23,145.12 L181.38,145.13 L182.54,145.13 L183.69,145.14 L184.84,145.15 L186.00,145.16 L187.15,145.17 L188.30,145.17 L189.46,145.18 L190.61,145.19 L191.76,145.20 L192.92,145.20 L194.07,145.21 L195.22,145.22 L196.38,145.22 L197.53,145.23 L198.68,145.24 L199.84,145.24 L200.99,145.25 L202.14,145.25 L203.30,145.26 L204.45,145.27 L205.60,145.27 L206.76,145.28 L207.91,145.28 L209.06,145.29 L210.22,145.29 L211.37,145.30 L212.52,145.30 L213.68,145.31 L214.83,145.31 L215.98,145.32 L217.14,145.32 L218.29,145.33 L219.45,145.33 L220.60,145.33 L221.75,145.34 L222.91,145.34 L224.06,145.35 L225.21,145.35 L226.37,145.35 L227.52,145.36 L228.67,145.36 L229.83,145.36 L230.98,145.36 L232.13,145.37 L233.29,145.37 L234.44,145.37 L235.59,145.37 L236.75,145.38 L237.90,145.38 L239.05,145.38 L240.21,145.38 L241.36,145.39 L242.51,145.39 L243.67,145.39 L244.82,145.39 L245.97,145.39 L247.13,145.39 L248.28,145.39 L249.43,145.40 L250.59,145.40 L251.74,145.40 L252.89,145.40 L254.05,145.40 L255.20,145.40 L256.35,145.40 L257.51,145.40 L258.66,145.40 L259.81,145.40 L260.97,145.40 L262.12,145.40 L263.27,145.40 L264.43,145.40 L265.58,145.40 L266.73,145.40 L267.89,145.40 L269.04,145.40 L270.19,145.40 L271.35,145.40 L272.50,145.40 L273.65,145.40 L274.81,145.40 L275.96,145.40 L277.11,145.40 L278.27,145.40 L279.42,145.40 L280.57,145.40 L281.73,145.40 L282.88,145.40 L284.03,145.40 L285.19,145.40 L286.34,145.40 L287.49,145.40 L288.65,145.40 L289.80,145.40 L290.95,145.40 L292.11,145.40 L293.26,145.40 L294.42,145.40 L295.57,145.40 L296.72,145.40 L297.88,145.40 L299.03,145.40 L300.18,145.40 L301.34,145.40 L302.49,145.40 L303.64,145.40 L304.80,145.40 L305.95,145.40 L307.10,145.40 L308.26,145.40 L309.41,145.40 L310.56,145.40 L311.72,145.40 L312.87,145.40 L314.02,145.40 L315.18,145.40 L316.33,145.40 L317.48,145.40 L318.64,145.40 L319.79,145.40 L320.94,145.40 L322.10,145.40 L323.25,145.40 L324.40,145.40 L325.56,145.40 L326.71,145.40 L327.86,145.40 L329.02,145.40 L330.17,145.40 L331.32,145.40 L332.48,145.40 L333.63,145.40 L334.78,145.40 L335.94,145.40 L337.09,145.40 L338.24,145.40 L339.40,145.40 L340.55,145.40 L341.70,145.40 L342.86,145.40 L344.01,145.40 L345.16,145.40 L346.32,145.40 L347.47,145.40 L348.62,145.40 L349.78,145.40 L350.93,145.40 L352.08,145.40 L353.24,145.40 L354.39,145.40 L355.54,145.40 L356.70,145.40 L357.85,145.40 L359.00,145.40 L360.16,145.40 L361.31,145.40 L362.46,145.40 L363.62,145.40 L364.77,145.40 L365.92,145.40 L367.08,145.40 L368.23,145.40 L369.38,145.40 L370.54,145.40 L371.69,145.40 L372.85,145.40 L374.00,145.40 L375.15,145.40 L376.31,145.40 L377.46,145.40 L378.61,145.40 L379.77,145.40 L380.92,145.40 L382.07,145.40 L383.23,145.40 L384.38,145.40 L385.53,145.40 L386.69,145.40 L387.84,145.40 L388.99,145.40 L390.15,145.40 L391.30,145.40 L392.45,145.40 L393.61,145.40 L394.76,145.40 L395.91,145.40 L397.07,145.40 L398.22,145.40 L399.37,145.40 L400.53,145.40 L401.68,145.40 L402.83,145.40 L403.99,145.40 L405.14,145.40 L406.29,145.40 L407.45,145.40 L408.60,145.40 L409.75,145.40 L410.91,145.40 L412.06,145.40 L413.21,145.40 L414.37,145.40 L415.52,145.40 L416.67,145.40 L417.83,145.40 L418.98,145.40 L420.13,145.40 L421.29,145.40 L422.44,145.40 L423.59,145.40 L424.75,145.40 L425.90,145.40 L427.05,145.40 L428.21,145.40 L429.36,145.40 L430.51,145.40 L431.67,145.39 L432.82,145.39 L433.97,145.39 L435.13,145.39 L436.28,145.39 L437.43,145.39 L438.59,145.39 L439.74,145.39 L440.89,145.39 L442.05,145.39 L443.20,145.39 L444.35,145.39 L445.51,145.39 L446.66,145.39 L447.82,145.39 L448.97,145.39 L450.12,145.39 L451.28,145.39 L452.43,145.39 L453.58,145.39 L454.74,145.39 L455.89,145.38 L457.04,145.38 L458.20,145.38 L459.35,145.38 L460.50,145.38 L461.66,145.38 L462.81,145.38 L463.96,145.38 L465.12,145.38 L466.27,145.38 L467.42,145.38 L468.58,145.38 L469.73,145.38 L470.88,145.38 L472.04,145.38 L473.19,145.37 L474.34,145.37 L475.50,145.37 L476.65,145.37 L477.80,145.37 L478.96,145.37 L480.11,145.37 L481.26,145.37 L482.42,145.37 L483.57,145.37 L484.72,145.37 L485.88,145.37 L487.03,145.36 L488.18,145.36 L489.34,145.36 L490.49,145.36 L491.64,145.36 L492.80,145.36 L493.95,145.36 L495.10,145.36 L496.26,145.36 L497.41,145.36 L498.56,145.36 L499.72,145.36 L500.87,145.35 L502.02,145.35 L503.18,145.35 L504.33,145.35 L505.48,145.35 L506.64,145.35 L507.79,145.35 L508.94,145.35 L510.10,145.35 L511.25,145.35 L512.40,145.35 L513.56,145.34 L514.71,145.34 L515.86,145.34 L517.02,145.34 L518.17,145.34 L519.32,145.34 L520.48,145.34 L521.63,145.34 L522.78,145.34 L523.94,145.34 L525.09,145.33 L526.25,145.33 L527.40,145.33 L528.55,145.33 L529.71,145.33 L530.86,145.33 L532.01,145.33 L533.17,145.33 L534.32,145.33 L535.47,145.32 L536.63,145.32 L537.78,145.32 L538.93,145.32 L540.09,145.32 L541.24,145.32 L542.39,145.32 L543.55,145.32 L544.70,145.32 L545.85,145.32 L547.01,145.31 L548.16,145.31 L549.31,145.31 L550.47,145.31 L551.62,145.31 L552.77,145.31 L553.93,145.31 L555.08,145.31 L556.23,145.31 L557.39,145.30 L558.54,145.30 L559.69,145.30 L560.85,145.30 L562.00,145.30" fill="none" stroke="#0000ff" stroke-width="2.7" stroke-opacity="0.12"/>
<path d="M101.80,139.00 L102.95,139.43 L104.11,139.83 L105.26,140.20 L106.41,140.51 L107.57,140.79 L108.72,141.05 L109.87,141.29 L111.03,141.51 L112.18,141.71 L113.33,141.91 L114.49,142.09 L115.64,142.28 L116.79,142.46 L117.95,142.64 L119.10,142.81 L120.25,142.98 L121.41,143.13 L122.56,143.28 L123.71,143.41 L124.87,143.53 L126.02,143.64 L127.17,143.72 L128.33,143.79 L129.48,143.84 L130.63,143.89 L131.79,143.94 L132.94,143.98 L134.09,144.02 L135.25,144.06 L136.40,144.10 L137.55,144.13 L138.71,144.16 L139.86,144.19 L141.02,144.22 L142.17,144.24 L143.32,144.27 L144.48,144.29 L145.63,144.32 L146.78,144.34 L147.94,144.36 L149.09,144.38 L150.24,144.41 L151.40,144.43 L152.55,144.45 L153.70,144.48 L154.86,144.50 L156.01,144.53 L157.16,144.55 L158.32,144.58 L159.47,144.61 L160.62,144.65 L161.78,144.68 L162.93,144.72 L164.08,144.75 L165.24,144.79 L166.39,144.83 L167.54,144.86 L168.70,144.90 L169.85,144.94 L171.00,144.97 L172.16,145.00 L173.31,145.03 L174.46,145.05 L175.62,145.07 L176.77,145.09 L177.92,145.10 L179.08,145.11 L180.23,145.12 L181.38,145.13 L182.54,145.13 L183.69,145.14 L184.84,145.15 L186.00,145.16 L187.15,145.17 L188.30,145.17 L189.46,145.18 L190.61,145.19 L191.76,145.20 L192.92,145.20 L194.07,145.21 L195.22,145.22 L196.38,145.22 L197.53,145.23 L198.68,145.24 L199.84,145.24 L200.99,145.25 L202.14,145.25 L203.30,145.26 L204.45,145.27 L205.60,145.27 L206.76,145.28 L207.91,145.28 L209.06,145.29 L210.22,145.29 L211.37,145.30 L212.52,145.30 L213.68,145.31 L214.83,145.31 L215.98,145.32 L217.14,145.32 L218.29,145.33 L219.45,145.33 L220.60,145.33 L221.75,145.34 L222.91,145.34 L224.06,145.35 L225.21,145.35 L226.37,145.35 L227.52,145.36 L228.67,145.36 L229.83,145.36 L230.98,145.36 L232.13,145.37 L233.29,145.37 L234.44,145.37 L235.59,145.37 L236.75,145.38 L237.90,145.38 L239.05,145.38 L240.21,145.38 L241.36,145.39 L242.51,145.39 L243.67,145.39 L244.82,145.39 L245.97,145.39 L247.13,145.39 L248.28,145.39 L249.43,145.40 L250.59,145.40 L251.74,145.40 L252.89,145.40 L254.05,145.40 L255.20,145.40 L256.35,145.40 L257.51,145.40 L258.66,145.40 L259.81,145.40 L260.97,145.40 L262.12,145.40 L263.27,145.40 L264.43,145.40 L265.58,145.40 L266.73,145.40 L267.89,145.40 L269.04,145.40 L270.19,145.40 L271.35,145.40 L272.50,145.40 L273.65,145.40 L274.81,145.40 L275.96,145.40 L277.11,145.40 L278.27,145.40 L279.42,145.40 L280.57,145.40 L281.73,145.40 L282.88,145.40 L284.03,145.40 L285.19,145.40 L286.34,145.40 L287.49,145.40 L288.65,145.40 L289.80,145.40 L290.95,145.40 L292.11,145.40 L293.26,145.40 L294.42,145.40 L295.57,145.40 L296.72,145.40 L297.88,145.40 L299.03,145.40 L300.18,145.40 L301.34,145.40 L302.49,145.40 L303.64,145.40 L304.80,145.40 L305.95,145.40 L307.10,145.40 L308.26,145.40 L309.41,145.40 L310.56,145.40 L311.72,145.40 L312.87,145.40 L314.02,145.40 L315.18,145.40 L316.33,145.40 L317.48,145.40 L318.64,145.40 L319.79,145.40 L320.94,145.40 L322.10,145.40 L323.25,145.40 L324.40,145.40 L325.56,145.40 L326.71,145.40 L327.86,145.40 L329.02,145.40 L330.17,145.40 L331.32,145.40 L332.48,145.40 L333.63,145.40 L334.78,145.40 L335.94,145.40 L337.09,145.40 L338.24,145.40 L339.40,145.40 L340.55,145.40 L341.70,145.40 L342.86,145.40 L344.01,145.40 L345.16,145.40 L346.32,145.40 L347.47,145.40 L348.62,145.40 L349.78,145.40 L350.93,145.40 L352.08,145.40 L353.24,145.40 L354.39,145.40 L355.54,145.40 L356.70,145.40 L357.85,145.40 L359.00,145.40 L360.16,145.40 L361.31,145.40 L362.46,145.40 L363.62,145.40 L364.77,145.40 L365.92,145.40 L367.08,145.40 L368.23,145.40 L369.38,145.40 L370.54,145.40 L371.69,145.40 L372.85,145.40 L374.00,145.40 L375.15,145.40 L376.31,145.40 L377.46,145.40 L378.61,145.40 L379.77,145.40 L380.92,145.40 L382.07,145.40 L383.23,145.40 L384.38,145.40 L385.53,145.40 L386.69,145.40 L387.84,145.40 L388.99,145.40 L390.15,145.40 L391.30,145.40 L392.45,145.40 L393.61,145.40 L394.76,145.40 L395.91,145.40 L397.07,145.40 L398.22,145.40 L399.37,145.40 L400.53,145.40 L401.68,145.40 L402.83,145.40 L403.99,145.40 L405.14,145.40 L406.29,145.40 L407.45,145.40 L408.60,145.40 L409.75,145.40 L410.91,145.40 L412.06,145.40 L413.21,145.40 L414.37,145.40 L415.52,145.40 L416.67,145.40 L417.83,145.40 L418.98,145.40 L420.13,145.40 L421.29,145.40 L422.44,145.40 L423.59,145.40 L424.75,145.40 L425.90,145.40 L427.05,145.40 L428.21,145.40 L429.36,145.40 L430.51,145.40 L431.67,145.39 L432.82,145.39 L433.97,145.39 L435.13,145.39 L436.28,145.39 L437.43,145.39 L438.59,145.39 L439.74,145.39 L440.89,145.39 L442.05,145.39 L443.20,145.39 L444.35,145.39 L445.51,145.39 L446.66,145.39 L447.82,145.39 L448.97,145.39 L450.12,145.39 L451.28,145.39 L452.43,145.39 L453.58,145.39 L454.74,145.39 L455.89,145.38 L457.04,145.38 L458.20,145.38 L459.35,145.38 L460.50,145.38 L461.66,145.38 L462.81,145.38 L463.96,145.38 L465.12,145.38 L466.27,145.38 L467.42,145.38 L468.58,145.38 L469.73,145.38 L470.88,145.38 L472.04,145.38 L473.19,145.37 L474.34,145.37 L475.50,145.37 L476.65,145.37 L477.80,145.37 L478.96,145.37 L480.11,145.37 L481.26,145.37 L482.42,145.37 L483.57,145.37 L484.72,145.37 L485.88,145.37 L487.03,145.36 L488.18,145.36 L489.34,145.36 L490.49,145.36 L491.64,145.36 L492.80,145.36 L493.95,145.36 L495.10,145.36 L496.26,145.36 L497.41,145.36 L498.56,145.36 L499.72,145.36 L500.87,145.35 L502.02,145.35 L503.18,145.35 L504.33,145.35 L505.48,145.35 L506.64,145.35 L507.79,145.35 L508.94,145.35 L510.10,145.35 L511.25,145.35 L512.40,145.35 L513.56,145.34 L514.71,145.34 L515.86,145.34 L517.02,145.34 L518.17,145.34 L519.32,145.34 L520.48,145.34 L521.63,145.34 L522.78,145.34 L523.94,145.34 L525.09,145.33 L526.25,145.33 L527.40,145.33 L528.55,145.33 L529.71,145.33 L530.86,145.33 L532.01,145.33 L533.17,145.33 L534.32,145.33 L535.47,145.32 L536.63,145.32 L537.78,145.32 L538.93,145.32 L540.09,145.32 L541.24,145.32 L542.39,145.32 L543.55,145.32 L544.70,145.32 L545.85,145.32 L547.01,145.31 L548.16,145.31 L549.31,145.31 L550.47,145.31 L551.62,145.31 L552.77,145.31 L553.93,145.31 L555.08,145.31 L556.23,145.31 L557.39,145.30 L558.54,145.30 L559.69,145.30 L560.85,145.30 L562.00,145.30" fill="none" stroke="#0000ff" stroke-width="2.7" stroke-dasharray="1.4 0.8"/>
<path d="M101.80,173.60 L102.95,174.04 L104.11,174.45 L105.26,174.81 L106.41,175.10 L107.57,175.35 L108.72,175.57 L109.87,175.78 L111.03,175.96 L112.18,176.14 L113.33,176.30 L114.49,176.47 L115.64,176.63 L116.79,176.79 L117.95,176.95 L119.10,177.10 L120.25,177.25 L121.41,177.39 L122.56,177.52 L123.71,177.64 L124.87,177.75 L126.02,177.85 L127.17,177.93 L128.33,177.99 L129.48,178.04 L130.63,178.09 L131.79,178.14 L132.94,178.19 L134.09,178.23 L135.25,178.27 L136.40,178.31 L137.55,178.35 L138.71,178.38 L139.86,178.42 L141.02,178.45 L142.17,178.48 L143.32,178.51 L144.48,178.54 L145.63,178.56 L146.78,178.59 L147.94,178.61 L149.09,178.64 L150.24,178.66 L151.40,178.68 L152.55,178.70 L153.70,178.72 L154.86,178.74 L156.01,178.76 L157.16,178.77 L158.32,178.79 L159.47,178.81 L160.62,178.82 L161.78,178.84 L162.93,178.86 L164.08,178.87 L165.24,178.89 L166.39,178.91 L167.54,178.92 L168.70,178.94 L169.85,178.95 L171.00,178.96 L172.16,178.97 L173.31,178.98 L174.46,178.99 L175.62,179.00 L176.77,179.00 L177.92,179.00 L179.08,179.00 L180.23,179.00 L181.38,179.00 L182.54,179.00 L183.69,179.00 L184.84,179.00 L186.00,179.00 L187.15,179.00 L188.30,179.00 L189.46,179.00 L190.61,179.00 L191.76,179.00 L192.92,179.00 L194.07,179.00 L195.22,179.00 L196.38,179.00 L197.53,179.00 L198.68,179.00 L199.84,179.00 L200.99,179.00 L202.14,178.99 L203.30,178.98 L204.45,178.97 L205.60,178.96 L206.76,178.94 L207.91,178.92 L209.06,178.90 L210.22,178.87 L211.37,178.84 L212.52,178.82 L213.68,178.79 L214.83,178.75 L215.98,178.72 L217.14,178.69 L218.29,178.65 L219.45,178.62 L220.60,178.58 L221.75,178.54 L222.91,178.51 L224.06,178.47 L225.21,178.44 L226.37,178.40 L227.52,178.37 L228.67,178.34 L229.83,178.30 L230.98,178.27 L232.13,178.24 L233.29,178.21 L234.44,178.17 L235.59,178.14 L236.75,178.10 L237.90,178.07 L239.05,178.03 L240.21,177.99 L241.36,177.96 L242.51,177.92 L243.67,177.88 L244.82,177.84 L245.97,177.80 L247.13,177.77 L248.28,177.73 L249.43,177.69 L250.59,177.66 L251.74,177.62 L252.89,177.59 L254.05,177.55 L255.20,177.52 L256.35,177.49 L257.51,177.46 L258.66,177.43 L259.81,177.40 L260.97,177.38 L262.12,177.35 L263.27,177.33 L264.43,177.30 L265.58,177.28 L266.73,177.26 L267.89,177.23 L269.04,177.21 L270.19,177.19 L271.35,177.17 L272.50,177.15 L273.65,177.13 L274.81,177.11 L275.96,177.09 L277.11,177.07 L278.27,177.05 L279.42,177.03 L280.57,177.01 L281.73,176.99 L282.88,176.97 L284.03,176.95 L285.19,176.93 L286.34,176.91 L287.49,176.89 L288.65,176.88 L289.80,176.86 L290.95,176.84 L292.11,176.82 L293.26,176.80 L294.42,176.79 L295.57,176.77 L296.72,176.75 L297.88,176.73 L299.03,176.72 L300.18,176.70 L301.34,176.68 L302.49,176.66 L303.64,176.64 L304.80,176.62 L305.95,176.61 L307.10,176.59 L308.26,176.57 L309.41,176.55 L310.56,176.53 L311.72,176.52 L312.87,176.50 L314.02,176.48 L315.18,176.46 L316.33,176.44 L317.48,176.42 L318.64,176.41 L319.79,176.39 L320.94,176.37 L322.10,176.35 L323.25,176.33 L324.40,176.32 L325.56,176.30 L326.71,176.28 L327.86,176.26 L329.02,176.24 L330.17,176.23 L331.32,176.21 L332.48,176.19 L333.63,176.17 L334.78,176.16 L335.94,176.14 L337.09,176.12 L338.24,176.10 L339.40,176.09 L340.55,176.07 L341.70,176.05 L342.86,176.04 L344.01,176.02 L345.16,176.00 L346.32,175.99 L347.47,175.97 L348.62,175.96 L349.78,175.94 L350.93,175.93 L352.08,175.91 L353.24,175.89 L354.39,175.88 L355.54,175.86 L356.70,175.85 L357.85,175.84 L359.00,175.82 L360.16,175.81 L361.31,175.79 L362.46,175.78 L363.62,175.77 L364.77,175.75 L365.92,175.74 L367.08,175.73 L368.23,175.71 L369.38,175.70 L370.54,175.69 L371.69,175.68 L372.85,175.67 L374.00,175.65 L375.15,175.64 L376.31,175.63 L377.46,175.62 L378.61,175.61 L379.77,175.60 L380.92,175.59 L382.07,175.58 L383.23,175.57 L384.38,175.56 L385.53,175.55 L386.69,175.55 L387.84,175.54 L388.99,175.53 L390.15,175.52 L391.30,175.51 L392.45,175.50 L393.61,175.49 L394.76,175.48 L395.91,175.48 L397.07,175.47 L398.22,175.46 L399.37,175.45 L400.53,175.44 L401.68,175.43 L402.83,175.43 L403.99,175.42 L405.14,175.41 L406.29,175.40 L407.45,175.40 L408.60,175.39 L409.75,175.38 L410.91,175.37 L412.06,175.37 L413.21,175.36 L414.37,175.35 L415.52,175.35 L416.67,175.34 L417.83,175.33 L418.98,175.32 L420.13,175.32 L421.29,175.31 L422.44,175.30 L423.59,175.30 L424.75,175.29 L425.90,175.28 L427.05,175.28 L428.21,175.27 L429.36,175.26 L430.51,175.26 L431.67,175.25 L432.82,175.25 L433.97,175.24 L435.13,175.23 L436.28,175.23 L437.43,175.22 L438.59,175.21 L439.74,175.21 L440.89,175.20 L442.05,175.20 L443.20,175.19 L444.35,175.18 L445.51,175.18 L446.66,175.17 L447.82,175.17 L448.97,175.16 L450.12,175.15 L451.28,175.15 L452.43,175.14 L453.58,175.14 L454.74,175.13 L455.89,175.12 L457.04,175.12 L458.20,175.11 L459.35,175.11 L460.50,175.10 L461.66,175.10 L462.81,175.09 L463.96,175.08 L465.12,175.08 L466.27,175.07 L467.42,175.07 L468.58,175.06 L469.73,175.05 L470.88,175.05 L472.04,175.04 L473.19,175.04 L474.34,175.03 L475.50,175.02 L476.65,175.02 L477.80,175.01 L478.96,175.01 L480.11,175.00 L481.26,174.99 L482.42,174.99 L483.57,174.98 L484.72,174.97 L485.88,174.97 L487.03,174.96 L488.18,174.96 L489.34,174.95 L490.49,174.94 L491.64,174.94 L492.80,174.93 L493.95,174.93 L495.10,174.92 L496.26,174.91 L497.41,174.91 L498.56,174.90 L499.72,174.90 L500.87,174.89 L502.02,174.88 L503.18,174.88 L504.33,174.87 L505.48,174.87 L506.64,174.86 L507.79,174.86 L508.94,174.85 L510.10,174.84 L511.25,174.84 L512.40,174.83 L513.56,174.83 L514.71,174.82 L515.86,174.82 L517.02,174.81 L518.17,174.80 L519.32,174.80 L520.48,174.79 L521.63,174.79 L522.78,174.78 L523.94,174.78 L525.09,174.77 L526.25,174.76 L527.40,174.76 L528.55,174.75 L529.71,174.75 L530.86,174.74 L532.01,174.74 L533.17,174.73 L534.32,174.73 L535.47,174.72 L536.63,174.72 L537.78,174.71 L538.93,174.70 L540.09,174.70 L541.24,174.69 L542.39,174.69 L543.55,174.68 L544.70,174.68 L545.85,174.67 L547.01,174.67 L548.16,174.66 L549.31,174.66 L550.47,174.65 L551.62,174.65 L552.77,174.64 L553.93,174.64 L555.08,174.63 L556.23,174.63 L557.39,174.62 L558.54,174.62 L559.69,174.61 L560.85,174.61 L562.00,174.60" fill="none" stroke="#00ff00" stroke-width="2.9" stroke-opacity="0.2"/>
<path d="M101.80,173.60 L102.95,174.04 L104.11,174.45 L105.26,174.81 L106.41,175.10 L107.57,175.35 L108.72,175.57 L109.87,175.78 L111.03,175.96 L112.18,176.14 L113.33,176.30 L114.49,176.47 L115.64,176.63 L116.79,176.79 L117.95,176.95 L119.10,177.10 L120.25,177.25 L121.41,177.39 L122.56,177.52 L123.71,177.64 L124.87,177.75 L126.02,177.85 L127.17,177.93 L128.33,177.99 L129.48,178.04 L130.63,178.09 L131.79,178.14 L132.94,178.19 L134.09,178.23 L135.25,178.27 L136.40,178.31 L137.55,178.35 L138.71,178.38 L139.86,178.42 L141.02,178.45 L142.17,178.48 L143.32,178.51 L144.48,178.54 L145.63,178.56 L146.78,178.59 L147.94,178.61 L149.09,178.64 L150.24,178.66 L151.40,178.68 L152.55,178.70 L153.70,178.72 L154.86,178.74 L156.01,178.76 L157.16,178.77 L158.32,178.79 L159.47,178.81 L160.62,178.82 L161.78,178.84 L162.93,178.86 L164.08,178.87 L165.24,178.89 L166.39,178.91 L167.54,178.92 L168.70,178.94 L169.85,178.95 L171.00,178.96 L172.16,178.97 L173.31,178.98 L174.46,178.99 L175.62,179.00 L176.77,179.00 L177.92,179.00 L179.08,179.00 L180.23,179.00 L181.38,179.00 L182.54,179.00 L183.69,179.00 L184.84,179.00 L186.00,179.00 L187.15,179.00 L188.30,179.00 L189.46,179.00 L190.61,179.00 L191.76,179.00 L192.92,179.00 L194.07,179.00 L195.22,179.00 L196.38,179.00 L197.53,179.00 L198.68,179.00 L199.84,179.00 L200.99,179.00 L202.14,178.99 L203.30,178.98 L204.45,178.97 L205.60,178.96 L206.76,178.94 L207.91,178.92 L209.06,178.90 L210.22,178.87 L211.37,178.84 L212.52,178.82 L213.68,178.79 L214.83,178.75 L215.98,178.72 L217.14,178.69 L218.29,178.65 L219.45,178.62 L220.60,178.58 L221.75,178.54 L222.91,178.51 L224.06,178.47 L225.21,178.44 L226.37,178.40 L227.52,178.37 L228.67,178.34 L229.83,178.30 L230.98,178.27 L232.13,178.24 L233.29,178.21 L234.44,178.17 L235.59,178.14 L236.75,178.10 L237.90,178.07 L239.05,178.03 L240.21,177.99 L241.36,177.96 L242.51,177.92 L243.67,177.88 L244.82,177.84 L245.97,177.80 L247.13,177.77 L248.28,177.73 L249.43,177.69 L250.59,177.66 L251.74,177.62 L252.89,177.59 L254.05,177.55 L255.20,177.52 L256.35,177.49 L257.51,177.46 L258.66,177.43 L259.81,177.40 L260.97,177.38 L262.12,177.35 L263.27,177.33 L264.43,177.30 L265.58,177.28 L266.73,177.26 L267.89,177.23 L269.04,177.21 L270.19,177.19 L271.35,177.17 L272.50,177.15 L273.65,177.13 L274.81,177.11 L275.96,177.09 L277.11,177.07 L278.27,177.05 L279.42,177.03 L280.57,177.01 L281.73,176.99 L282.88,176.97 L284.03,176.95 L285.19,176.93 L286.34,176.91 L287.49,176.89 L288.65,176.88 L289.80,176.86 L290.95,176.84 L292.11,176.82 L293.26,176.80 L294.42,176.79 L295.57,176.77 L296.72,176.75 L297.88,176.73 L299.03,176.72 L300.18,176.70 L301.34,176.68 L302.49,176.66 L303.64,176.64 L304.80,176.62 L305.95,176.61 L307.10,176.59 L308.26,176.57 L309.41,176.55 L310.56,176.53 L311.72,176.52 L312.87,176.50 L314.02,176.48 L315.18,176.46 L316.33,176.44 L317.48,176.42 L318.64,176.41 L319.79,176.39 L320.94,176.37 L322.10,176.35 L323.25,176.33 L324.40,176.32 L325.56,176.30 L326.71,176.28 L327.86,176.26 L329.02,176.24 L330.17,176.23 L331.32,176.21 L332.48,176.19 L333.63,176.17 L334.78,176.16 L335.94,176.14 L337.09,176.12 L338.24,176.10 L339.40,176.09 L340.55,176.07 L341.70,176.05 L342.86,176.04 L344.01,176.02 L345.16,176.00 L346.32,175.99 L347.47,175.97 L348.62,175.96 L349.78,175.94 L350.93,175.93 L352.08,175.91 L353.24,175.89 L354.39,175.88 L355.54,175.86 L356.70,175.85 L357.85,175.84 L359.00,175.82 L360.16,175.81 L361.31,175.79 L362.46,175.78 L363.62,175.77 L364.77,175.75 L365.92,175.74 L367.08,175.73 L368.23,175.71 L369.38,175.70 L370.54,175.69 L371.69,175.68 L372.85,175.67 L374.00,175.65 L375.15,175.64 L376.31,175.63 L377.46,175.62 L378.61,175.61 L379.77,175.60 L380.92,175.59 L382.07,175.58 L383.23,175.57 L384.38,175.56 L385.53,175.55 L386.69,175.55 L387.84,175.54 L388.99,175.53 L390.15,175.52 L391.30,175.51 L392.45,175.50 L393.61,175.49 L394.76,175.48 L395.91,175.48 L397.07,175.47 L398.22,175.46 L399.37,175.45 L400.53,175.44 L401.68,175.43 L402.83,175.43 L403.99,175.42 L405.14,175.41 L406.29,175.40 L407.45,175.40 L408.60,175.39 L409.75,175.38 L410.91,175.37 L412.06,175.37 L413.21,175.36 L414.37,175.35 L415.52,175.35 L416.67,175.34 L417.83,175.33 L418.98,175.32 L420.13,175.32 L421.29,175.31 L422.44,175.30 L423.59,175.30 L424.75,175.29 L425.90,175.28 L427.05,175.28 L428.21,175.27 L429.36,175.26 L430.51,175.26 L431.67,175.25 L432.82,175.25 L433.97,175.24 L435.13,175.23 L436.28,175.23 L437.43,175.22 L438.59,175.21 L439.74,175.21 L440.89,175.20 L442.05,175.20 L443.20,175.19 L444.35,175.18 L445.51,175.18 L446.66,175.17 L447.82,175.17 L448.97,175.16 L450.12,175.15 L451.28,175.15 L452.43,175.14 L453.58,175.14 L454.74,175.13 L455.89,175.12 L457.04,175.12 L458.20,175.11 L459.35,175.11 L460.50,175.10 L461.66,175.10 L462.81,175.09 L463.96,175.08 L465.12,175.08 L466.27,175.07 L467.42,175.07 L468.58,175.06 L469.73,175.05 L470.88,175.05 L472.04,175.04 L473.19,175.04 L474.34,175.03 L475.50,175.02 L476.65,175.02 L477.80,175.01 L478.96,175.01 L480.11,175.00 L481.26,174.99 L482.42,174.99 L483.57,174.98 L484.72,174.97 L485.88,174.97 L487.03,174.96 L488.18,174.96 L489.34,174.95 L490.49,174.94 L491.64,174.94 L492.80,174.93 L493.95,174.93 L495.10,174.92 L496.26,174.91 L497.41,174.91 L498.56,174.90 L499.72,174.90 L500.87,174.89 L502.02,174.88 L503.18,174.88 L504.33,174.87 L505.48,174.87 L506.64,174.86 L507.79,174.86 L508.94,174.85 L510.10,174.84 L511.25,174.84 L512.40,174.83 L513.56,174.83 L514.71,174.82 L515.86,174.82 L517.02,174.81 L518.17,174.80 L519.32,174.80 L520.48,174.79 L521.63,174.79 L522.78,174.78 L523.94,174.78 L525.09,174.77 L526.25,174.76 L527.40,174.76 L528.55,174.75 L529.71,174.75 L530.86,174.74 L532.01,174.74 L533.17,174.73 L534.32,174.73 L535.47,174.72 L536.63,174.72 L537.78,174.71 L538.93,174.70 L540.09,174.70 L541.24,174.69 L542.39,174.69 L543.55,174.68 L544.70,174.68 L545.85,174.67 L547.01,174.67 L548.16,174.66 L549.31,174.66 L550.47,174.65 L551.62,174.65 L552.77,174.64 L553.93,174.64 L555.08,174.63 L556.23,174.63 L557.39,174.62 L558.54,174.62 L559.69,174.61 L560.85,174.61 L562.00,174.60" fill="none" stroke="#00ff00" stroke-width="2.9" stroke-dasharray="4.8 1 0.8 1.07"/>
<path d="M101.80,208.00 L102.95,208.33 L104.11,208.64 L105.26,208.94 L106.41,209.23 L107.57,209.50 L108.72,209.75 L109.87,209.98 L111.03,210.19 L112.18,210.39 L113.33,210.59 L114.49,210.77 L115.64,210.95 L116.79,211.11 L117.95,211.26 L119.10,211.40 L120.25,211.53 L121.41,211.65 L122.56,211.77 L123.71,211.89 L124.87,212.01 L126.02,212.12 L127.17,212.23 L128.33,212.33 L129.48,212.42 L130.63,212.50 L131.79,212.57 L132.94,212.63 L134.09,212.68 L135.25,212.71 L136.40,212.73 L137.55,212.75 L138.71,212.77 L139.86,212.79 L141.02,212.81 L142.17,212.83 L143.32,212.85 L144.48,212.86 L145.63,212.87 L146.78,212.88 L147.94,212.89 L149.09,212.90 L150.24,212.90 L151.40,212.90 L152.55,212.89 L153.70,212.87 L154.86,212.84 L156.01,212.79 L157.16,212.74 L158.32,212.68 L159.47,212.62 L160.62,212.55 L161.78,212.48 L162.93,212.41 L164.08,212.35 L165.24,212.29 L166.39,212.23 L167.54,212.17 L168.70,212.10 L169.85,212.01 L171.00,211.90 L172.16,211.74 L173.31,211.55 L174.46,211.33 L175.62,211.08 L176.77,210.81 L177.92,210.52 L179.08,210.20 L180.23,209.82 L181.38,209.40 L182.54,208.93 L183.69,208.42 L184.84,207.89 L186.00,207.33 L187.15,206.75 L188.30,206.16 L189.46,205.56 L190.61,204.89 L191.76,204.16 L192.92,203.39 L194.07,202.60 L195.22,201.80 L196.38,201.03 L197.53,200.29 L198.68,199.59 L199.84,198.90 L200.99,198.21 L202.14,197.52 L203.30,196.86 L204.45,196.21 L205.60,195.59 L206.76,194.99 L207.91,194.43 L209.06,193.91 L210.22,193.42 L211.37,192.95 L212.52,192.50 L213.68,192.07 L214.83,191.66 L215.98,191.26 L217.14,190.87 L218.29,190.50 L219.45,190.14 L220.60,189.79 L221.75,189.44 L222.91,189.10 L224.06,188.76 L225.21,188.42 L226.37,188.08 L227.52,187.73 L228.67,187.38 L229.83,187.02 L230.98,186.66 L232.13,186.33 L233.29,186.02 L234.44,185.76 L235.59,185.50 L236.75,185.26 L237.90,185.02 L239.05,184.80 L240.21,184.58 L241.36,184.36 L242.51,184.16 L243.67,183.96 L244.82,183.77 L245.97,183.58 L247.13,183.40 L248.28,183.23 L249.43,183.06 L250.59,182.89 L251.74,182.73 L252.89,182.57 L254.05,182.42 L255.20,182.27 L256.35,182.12 L257.51,181.98 L258.66,181.84 L259.81,181.71 L260.97,181.59 L262.12,181.47 L263.27,181.36 L264.43,181.25 L265.58,181.15 L266.73,181.05 L267.89,180.96 L269.04,180.87 L270.19,180.78 L271.35,180.69 L272.50,180.60 L273.65,180.51 L274.81,180.43 L275.96,180.35 L277.11,180.26 L278.27,180.18 L279.42,180.11 L280.57,180.03 L281.73,179.96 L282.88,179.88 L284.03,179.81 L285.19,179.74 L286.34,179.68 L287.49,179.61 L288.65,179.55 L289.80,179.48 L290.95,179.42 L292.11,179.36 L293.26,179.30 L294.42,179.25 L295.57,179.19 L296.72,179.14 L297.88,179.09 L299.03,179.04 L300.18,178.99 L301.34,178.95 L302.49,178.90 L303.64,178.86 L304.80,178.81 L305.95,178.77 L307.10,178.73 L308.26,178.69 L309.41,178.65 L310.56,178.61 L311.72,178.57 L312.87,178.53 L314.02,178.50 L315.18,178.46 L316.33,178.42 L317.48,178.39 L318.64,178.35 L319.79,178.32 L320.94,178.29 L322.10,178.26 L323.25,178.22 L324.40,178.19 L325.56,178.16 L326.71,178.13 L327.86,178.10 L329.02,178.07 L330.17,178.04 L331.32,178.01 L332.48,177.98 L333.63,177.95 L334.78,177.93 L335.94,177.90 L337.09,177.87 L338.24,177.84 L339.40,177.81 L340.55,177.79 L341.70,177.76 L342.86,177.73 L344.01,177.70 L345.16,177.68 L346.32,177.65 L347.47,177.62 L348.62,177.60 L349.78,177.57 L350.93,177.54 L352.08,177.52 L353.24,177.49 L354.39,177.47 L355.54,177.44 L356.70,177.42 L357.85,177.39 L359.00,177.37 L360.16,177.34 L361.31,177.32 L362.46,177.30 L363.62,177.27 L364.77,177.25 L365.92,177.23 L367.08,177.21 L368.23,177.19 L369.38,177.17 L370.54,177.15 L371.69,177.13 L372.85,177.11 L374.00,177.09 L375.15,177.07 L376.31,177.05 L377.46,177.04 L378.61,177.02 L379.77,177.00 L380.92,176.99 L382.07,176.97 L383.23,176.96 L384.38,176.94 L385.53,176.93 L386.69,176.91 L387.84,176.90 L388.99,176.89 L390.15,176.87 L391.30,176.86 L392.45,176.85 L393.61,176.83 L394.76,176.82 L395.91,176.81 L397.07,176.79 L398.22,176.78 L399.37,176.77 L400.53,176.76 L401.68,176.75 L402.83,176.73 L403.99,176.72 L405.14,176.71 L406.29,176.70 L407.45,176.69 L408.60,176.68 L409.75,176.67 L410.91,176.66 L412.06,176.65 L413.21,176.64 L414.37,176.63 L415.52,176.62 L416.67,176.61 L417.83,176.60 L418.98,176.59 L420.13,176.58 L421.29,176.57 L422.44,176.56 L423.59,176.55 L424.75,176.54 L425.90,176.53 L427.05,176.52 L428.21,176.51 L429.36,176.50 L430.51,176.50 L431.67,176.49 L432.82,176.48 L433.97,176.47 L435.13,176.46 L436.28,176.45 L437.43,176.45 L438.59,176.44 L439.74,176.43 L440.89,176.42 L442.05,176.42 L443.20,176.41 L444.35,176.40 L445.51,176.39 L446.66,176.39 L447.82,176.38 L448.97,176.37 L450.12,176.37 L451.28,176.36 L452.43,176.35 L453.58,176.35 L454.74,176.34 L455.89,176.33 L457.04,176.33 L458.20,176.32 L459.35,176.31 L460.50,176.31 L461.66,176.30 L462.81,176.29 L463.96,176.29 L465.12,176.28 L466.27,176.27 L467.42,176.27 L468.58,176.26 L469.73,176.26 L470.88,176.25 L472.04,176.24 L473.19,176.24 L474.34,176.23 L475.50,176.22 L476.65,176.22 L477.80,176.21 L478.96,176.21 L480.11,176.20 L481.26,176.19 L482.42,176.19 L483.57,176.18 L484.72,176.17 L485.88,176.17 L487.03,176.16 L488.18,176.16 L489.34,176.15 L490.49,176.14 L491.64,176.14 L492.80,176.13 L493.95,176.13 L495.10,176.12 L496.26,176.11 L497.41,176.11 L498.56,176.10 L499.72,176.10 L500.87,176.09 L502.02,176.08 L503.18,176.08 L504.33,176.07 L505.48,176.07 L506.64,176.06 L507.79,176.05 L508.94,176.05 L510.10,176.04 L511.25,176.04 L512.40,176.03 L513.56,176.02 L514.71,176.02 L515.86,176.01 L517.02,176.01 L518.17,176.00 L519.32,176.00 L520.48,175.99 L521.63,175.98 L522.78,175.98 L523.94,175.97 L525.09,175.97 L526.25,175.96 L527.40,175.96 L528.55,175.95 L529.71,175.95 L530.86,175.94 L532.01,175.93 L533.17,175.93 L534.32,175.92 L535.47,175.92 L536.63,175.91 L537.78,175.91 L538.93,175.90 L540.09,175.90 L541.24,175.89 L542.39,175.89 L543.55,175.88 L544.70,175.88 L545.85,175.87 L547.01,175.86 L548.16,175.86 L549.31,175.85 L550.47,175.85 L551.62,175.84 L552.77,175.84 L553.93,175.83 L555.08,175.83 L556.23,175.82 L557.39,175.82 L558.54,175.81 L559.69,175.81 L560.85,175.80 L562.00,175.80" fill="none" stroke="#ff00ff" stroke-width="2.7" stroke-opacity="0.2"/>
<path d="M101.80,208.00 L102.95,208.33 L104.11,208.64 L105.26,208.94 L106.41,209.23 L107.57,209.50 L108.72,209.75 L109.87,209.98 L111.03,210.19 L112.18,210.39 L113.33,210.59 L114.49,210.77 L115.64,210.95 L116.79,211.11 L117.95,211.26 L119.10,211.40 L120.25,211.53 L121.41,211.65 L122.56,211.77 L123.71,211.89 L124.87,212.01 L126.02,212.12 L127.17,212.23 L128.33,212.33 L129.48,212.42 L130.63,212.50 L131.79,212.57 L132.94,212.63 L134.09,212.68 L135.25,212.71 L136.40,212.73 L137.55,212.75 L138.71,212.77 L139.86,212.79 L141.02,212.81 L142.17,212.83 L143.32,212.85 L144.48,212.86 L145.63,212.87 L146.78,212.88 L147.94,212.89 L149.09,212.90 L150.24,212.90 L151.40,212.90 L152.55,212.89 L153.70,212.87 L154.86,212.84 L156.01,212.79 L157.16,212.74 L158.32,212.68 L159.47,212.62 L160.62,212.55 L161.78,212.48 L162.93,212.41 L164.08,212.35 L165.24,212.29 L166.39,212.23 L167.54,212.17 L168.70,212.10 L169.85,212.01 L171.00,211.90 L172.16,211.74 L173.31,211.55 L174.46,211.33 L175.62,211.08 L176.77,210.81 L177.92,210.52 L179.08,210.20 L180.23,209.82 L181.38,209.40 L182.54,208.93 L183.69,208.42 L184.84,207.89 L186.00,207.33 L187.15,206.75 L188.30,206.16 L189.46,205.56 L190.61,204.89 L191.76,204.16 L192.92,203.39 L194.07,202.60 L195.22,201.80 L196.38,201.03 L197.53,200.29 L198.68,199.59 L199.84,198.90 L200.99,198.21 L202.14,197.52 L203.30,196.86 L204.45,196.21 L205.60,195.59 L206.76,194.99 L207.91,194.43 L209.06,193.91 L210.22,193.42 L211.37,192.95 L212.52,192.50 L213.68,192.07 L214.83,191.66 L215.98,191.26 L217.14,190.87 L218.29,190.50 L219.45,190.14 L220.60,189.79 L221.75,189.44 L222.91,189.10 L224.06,188.76 L225.21,188.42 L226.37,188.08 L227.52,187.73 L228.67,187.38 L229.83,187.02 L230.98,186.66 L232.13,186.33 L233.29,186.02 L234.44,185.76 L235.59,185.50 L236.75,185.26 L237.90,185.02 L239.05,184.80 L240.21,184.58 L241.36,184.36 L242.51,184.16 L243.67,183.96 L244.82,183.77 L245.97,183.58 L247.13,183.40 L248.28,183.23 L249.43,183.06 L250.59,182.89 L251.74,182.73 L252.89,182.57 L254.05,182.42 L255.20,182.27 L256.35,182.12 L257.51,181.98 L258.66,181.84 L259.81,181.71 L260.97,181.59 L262.12,181.47 L263.27,181.36 L264.43,181.25 L265.58,181.15 L266.73,181.05 L267.89,180.96 L269.04,180.87 L270.19,180.78 L271.35,180.69 L272.50,180.60 L273.65,180.51 L274.81,180.43 L275.96,180.35 L277.11,180.26 L278.27,180.18 L279.42,180.11 L280.57,180.03 L281.73,179.96 L282.88,179.88 L284.03,179.81 L285.19,179.74 L286.34,179.68 L287.49,179.61 L288.65,179.55 L289.80,179.48 L290.95,179.42 L292.11,179.36 L293.26,179.30 L294.42,179.25 L295.57,179.19 L296.72,179.14 L297.88,179.09 L299.03,179.04 L300.18,178.99 L301.34,178.95 L302.49,178.90 L303.64,178.86 L304.80,178.81 L305.95,178.77 L307.10,178.73 L308.26,178.69 L309.41,178.65 L310.56,178.61 L311.72,178.57 L312.87,178.53 L314.02,178.50 L315.18,178.46 L316.33,178.42 L317.48,178.39 L318.64,178.35 L319.79,178.32 L320.94,178.29 L322.10,178.26 L323.25,178.22 L324.40,178.19 L325.56,178.16 L326.71,178.13 L327.86,178.10 L329.02,178.07 L330.17,178.04 L331.32,178.01 L332.48,177.98 L333.63,177.95 L334.78,177.93 L335.94,177.90 L337.09,177.87 L338.24,177.84 L339.40,177.81 L340.55,177.79 L341.70,177.76 L342.86,177.73 L344.01,177.70 L345.16,177.68 L346.32,177.65 L347.47,177.62 L348.62,177.60 L349.78,177.57 L350.93,177.54 L352.08,177.52 L353.24,177.49 L354.39,177.47 L355.54,177.44 L356.70,177.42 L357.85,177.39 L359.00,177.37 L360.16,177.34 L361.31,177.32 L362.46,177.30 L363.62,177.27 L364.77,177.25 L365.92,177.23 L367.08,177.21 L368.23,177.19 L369.38,177.17 L370.54,177.15 L371.69,177.13 L372.85,177.11 L374.00,177.09 L375.15,177.07 L376.31,177.05 L377.46,177.04 L378.61,177.02 L379.77,177.00 L380.92,176.99 L382.07,176.97 L383.23,176.96 L384.38,176.94 L385.53,176.93 L386.69,176.91 L387.84,176.90 L388.99,176.89 L390.15,176.87 L391.30,176.86 L392.45,176.85 L393.61,176.83 L394.76,176.82 L395.91,176.81 L397.07,176.79 L398.22,176.78 L399.37,176.77 L400.53,176.76 L401.68,176.75 L402.83,176.73 L403.99,176.72 L405.14,176.71 L406.29,176.70 L407.45,176.69 L408.60,176.68 L409.75,176.67 L410.91,176.66 L412.06,176.65 L413.21,176.64 L414.37,176.63 L415.52,176.62 L416.67,176.61 L417.83,176.60 L418.98,176.59 L420.13,176.58 L421.29,176.57 L422.44,176.56 L423.59,176.55 L424.75,176.54 L425.90,176.53 L427.05,176.52 L428.21,176.51 L429.36,176.50 L430.51,176.50 L431.67,176.49 L432.82,176.48 L433.97,176.47 L435.13,176.46 L436.28,176.45 L437.43,176.45 L438.59,176.44 L439.74,176.43 L440.89,176.42 L442.05,176.42 L443.20,176.41 L444.35,176.40 L445.51,176.39 L446.66,176.39 L447.82,176.38 L448.97,176.37 L450.12,176.37 L451.28,176.36 L452.43,176.35 L453.58,176.35 L454.74,176.34 L455.89,176.33 L457.04,176.33 L458.20,176.32 L459.35,176.31 L460.50,176.31 L461.66,176.30 L462.81,176.29 L463.96,176.29 L465.12,176.28 L466.27,176.27 L467.42,176.27 L468.58,176.26 L469.73,176.26 L470.88,176.25 L472.04,176.24 L473.19,176.24 L474.34,176.23 L475.50,176.22 L476.65,176.22 L477.80,176.21 L478.96,176.21 L480.11,176.20 L481.26,176.19 L482.42,176.19 L483.57,176.18 L484.72,176.17 L485.88,176.17 L487.03,176.16 L488.18,176.16 L489.34,176.15 L490.49,176.14 L491.64,176.14 L492.80,176.13 L493.95,176.13 L495.10,176.12 L496.26,176.11 L497.41,176.11 L498.56,176.10 L499.72,176.10 L500.87,176.09 L502.02,176.08 L503.18,176.08 L504.33,176.07 L505.48,176.07 L506.64,176.06 L507.79,176.05 L508.94,176.05 L510.10,176.04 L511.25,176.04 L512.40,176.03 L513.56,176.02 L514.71,176.02 L515.86,176.01 L517.02,176.01 L518.17,176.00 L519.32,176.00 L520.48,175.99 L521.63,175.98 L522.78,175.98 L523.94,175.97 L525.09,175.97 L526.25,175.96 L527.40,175.96 L528.55,175.95 L529.71,175.95 L530.86,175.94 L532.01,175.93 L533.17,175.93 L534.32,175.92 L535.47,175.92 L536.63,175.91 L537.78,175.91 L538.93,175.90 L540.09,175.90 L541.24,175.89 L542.39,175.89 L543.55,175.88 L544.70,175.88 L545.85,175.87 L547.01,175.86 L548.16,175.86 L549.31,175.85 L550.47,175.85 L551.62,175.84 L552.77,175.84 L553.93,175.83 L555.08,175.83 L556.23,175.82 L557.39,175.82 L558.54,175.81 L559.69,175.81 L560.85,175.80 L562.00,175.80" fill="none" stroke="#ff00ff" stroke-width="2.7" stroke-dasharray="2 2 0.8 2.24"/>
<path d="M101.80,208.00 L102.00,208.06 L102.21,208.12 L102.41,208.17 L102.61,208.23 L102.82,208.29 L103.02,208.34 L103.22,208.40 L103.43,208.46 L103.63,208.51 L103.83,208.57 L104.04,208.62 L104.24,208.68 L104.44,208.73 L104.65,208.78 L104.85,208.84 L105.05,208.89 L105.26,208.94 L105.46,208.99 L105.66,209.04 L105.87,209.09 L106.07,209.14 L106.27,209.19 L106.48,209.24 L106.68,209.29 L106.88,209.34 L107.09,209.39 L107.29,209.43 L107.49,209.48 L107.70,209.53 L107.90,209.57 L108.10,209.62 L108.31,209.66 L108.51,209.70 L108.71,209.75 L108.92,209.79 L109.12,209.83 L109.32,209.87 L109.53,209.91 L109.73,209.95 L109.93,209.99 L110.14,210.03 L110.34,210.06 L110.54,210.10 L110.75,210.14 L110.95,210.18 L111.15,210.21 L111.36,210.25 L111.56,210.28 L111.76,210.32 L111.97,210.36 L112.17,210.39 L112.37,210.43 L112.58,210.46 L112.78,210.50 L112.98,210.53 L113.19,210.56 L113.39,210.60 L113.59,210.63 L113.80,210.66 L114.00,210.70 L114.21,210.73 L114.41,210.76 L114.61,210.79 L114.82,210.82 L115.02,210.85 L115.22,210.88 L115.43,210.91 L115.63,210.94 L115.83,210.97 L116.04,211.00 L116.24,211.03 L116.44,211.06 L116.65,211.09 L116.85,211.12 L117.05,211.14 L117.26,211.17 L117.46,211.20 L117.66,211.22 L117.87,211.25 L118.07,211.28 L118.27,211.30 L118.48,211.33 L118.68,211.35 L118.88,211.37 L119.09,211.40 L119.29,211.42 L119.49,211.44 L119.70,211.47 L119.90,211.49 L120.10,211.51 L120.31,211.53 L120.51,211.55 L120.71,211.58 L120.92,211.60 L121.12,211.62 L121.32,211.64 L121.53,211.66 L121.73,211.68 L121.93,211.71 L122.14,211.73 L122.34,211.75 L122.54,211.77 L122.75,211.79 L122.95,211.81 L123.15,211.84 L123.36,211.86 L123.56,211.88 L123.76,211.90 L123.97,211.92 L124.17,211.94 L124.37,211.96 L124.58,211.98 L124.78,212.00 L124.98,212.02 L125.19,212.04 L125.39,212.06 L125.59,212.08 L125.80,212.10 L126.00,212.12" fill="none" stroke="#ff00ff" stroke-width="2.8" stroke-opacity="0.75"/>
<path d="M172.00,211.76 L172.72,211.65 L173.45,211.52 L174.17,211.38 L174.89,211.24 L175.61,211.08 L176.34,210.91 L177.06,210.74 L177.78,210.56 L178.50,210.37 L179.23,210.15 L179.95,209.92 L180.67,209.67 L181.39,209.39 L182.12,209.10 L182.84,208.80 L183.56,208.48 L184.29,208.15 L185.01,207.81 L185.73,207.46 L186.45,207.10 L187.18,206.74 L187.90,206.37 L188.62,206.00 L189.34,205.62 L190.07,205.21 L190.79,204.78 L191.51,204.32 L192.24,203.85 L192.96,203.36 L193.68,202.87 L194.40,202.37 L195.13,201.87 L195.85,201.38 L196.57,200.90 L197.29,200.43 L198.02,199.99 L198.74,199.56 L199.46,199.12 L200.18,198.69 L200.91,198.26 L201.63,197.83 L202.35,197.40 L203.08,196.98 L203.80,196.57 L204.52,196.17 L205.24,195.78 L205.97,195.40 L206.69,195.03 L207.41,194.67 L208.13,194.33 L208.86,194.00 L209.58,193.69 L210.30,193.38 L211.03,193.09 L211.75,192.80 L212.47,192.52 L213.19,192.25 L213.92,191.99 L214.64,191.73 L215.36,191.47 L216.08,191.23 L216.81,190.98 L217.53,190.75 L218.25,190.51 L218.97,190.29 L219.70,190.06 L220.42,189.84 L221.14,189.62 L221.87,189.41 L222.59,189.19 L223.31,188.98 L224.03,188.77 L224.76,188.55 L225.48,188.34 L226.20,188.13 L226.92,187.91 L227.65,187.70 L228.37,187.47 L229.09,187.25 L229.82,187.02 L230.54,186.80 L231.26,186.58 L231.98,186.37 L232.71,186.17 L233.43,185.99 L234.15,185.82 L234.87,185.66 L235.60,185.50 L236.32,185.35 L237.04,185.20 L237.76,185.05 L238.49,184.91 L239.21,184.77 L239.93,184.63 L240.66,184.49 L241.38,184.36 L242.10,184.23 L242.82,184.11 L243.55,183.98 L244.27,183.86 L244.99,183.74 L245.71,183.63 L246.44,183.51 L247.16,183.40 L247.88,183.29 L248.61,183.18 L249.33,183.07 L250.05,182.97 L250.77,182.87 L251.50,182.77 L252.22,182.67 L252.94,182.57 L253.66,182.47 L254.39,182.37 L255.11,182.28 L255.83,182.19 L256.55,182.10 L257.28,182.01 L258.00,181.92" fill="none" stroke="#ff00ff" stroke-width="3.3" stroke-opacity="0.78"/>
<path d="M258.00,181.92 L258.35,181.88 L258.71,181.84 L259.06,181.80 L259.41,181.76 L259.76,181.72 L260.12,181.68 L260.47,181.64 L260.82,181.60 L261.18,181.56 L261.53,181.53 L261.88,181.49 L262.24,181.46 L262.59,181.42 L262.94,181.39 L263.29,181.35 L263.65,181.32 L264.00,181.29 L264.35,181.26 L264.71,181.23 L265.06,181.20 L265.41,181.17 L265.76,181.14 L266.12,181.11 L266.47,181.08 L266.82,181.05 L267.18,181.02 L267.53,180.99 L267.88,180.96 L268.24,180.93 L268.59,180.90 L268.94,180.88 L269.29,180.85 L269.65,180.82 L270.00,180.79 L270.35,180.76 L270.71,180.74 L271.06,180.71 L271.41,180.68 L271.76,180.65 L272.12,180.63 L272.47,180.60 L272.82,180.57 L273.18,180.55 L273.53,180.52 L273.88,180.50 L274.24,180.47 L274.59,180.44 L274.94,180.42 L275.29,180.39 L275.65,180.37 L276.00,180.34 L276.35,180.32 L276.71,180.29 L277.06,180.27 L277.41,180.24 L277.76,180.22 L278.12,180.20 L278.47,180.17 L278.82,180.15 L279.18,180.12 L279.53,180.10 L279.88,180.08 L280.24,180.05 L280.59,180.03 L280.94,180.01 L281.29,179.98 L281.65,179.96 L282.00,179.94 L282.35,179.92 L282.71,179.89 L283.06,179.87 L283.41,179.85 L283.76,179.83 L284.12,179.81 L284.47,179.79 L284.82,179.77 L285.18,179.74 L285.53,179.72 L285.88,179.70 L286.24,179.68 L286.59,179.66 L286.94,179.64 L287.29,179.62 L287.65,179.60 L288.00,179.58 L288.35,179.56 L288.71,179.54 L289.06,179.52 L289.41,179.50 L289.76,179.48 L290.12,179.47 L290.47,179.45 L290.82,179.43 L291.18,179.41 L291.53,179.39 L291.88,179.37 L292.24,179.36 L292.59,179.34 L292.94,179.32 L293.29,179.30 L293.65,179.29 L294.00,179.27 L294.35,179.25 L294.71,179.23 L295.06,179.22 L295.41,179.20 L295.76,179.18 L296.12,179.17 L296.47,179.15 L296.82,179.14 L297.18,179.12 L297.53,179.10 L297.88,179.09 L298.24,179.07 L298.59,179.06 L298.94,179.04 L299.29,179.03 L299.65,179.01 L300.00,179.00" fill="none" stroke="#ff00ff" stroke-width="3.0" stroke-opacity="0.45"/>
<path d="M300.00,179.00 L300.42,178.98 L300.84,178.97 L301.26,178.95 L301.68,178.93 L302.10,178.92 L302.52,178.90 L302.94,178.88 L303.36,178.87 L303.78,178.85 L304.20,178.83 L304.62,178.82 L305.04,178.80 L305.46,178.79 L305.88,178.77 L306.30,178.76 L306.72,178.74 L307.14,178.73 L307.56,178.71 L307.98,178.70 L308.40,178.68 L308.82,178.67 L309.24,178.65 L309.66,178.64 L310.08,178.62 L310.50,178.61 L310.92,178.60 L311.34,178.58 L311.76,178.57 L312.18,178.55 L312.61,178.54 L313.03,178.53 L313.45,178.51 L313.87,178.50 L314.29,178.49 L314.71,178.47 L315.13,178.46 L315.55,178.45 L315.97,178.43 L316.39,178.42 L316.81,178.41 L317.23,178.40 L317.65,178.38 L318.07,178.37 L318.49,178.36 L318.91,178.35 L319.33,178.33 L319.75,178.32 L320.17,178.31 L320.59,178.30 L321.01,178.29 L321.43,178.27 L321.85,178.26 L322.27,178.25 L322.69,178.24 L323.11,178.23 L323.53,178.22 L323.95,178.20 L324.37,178.19 L324.79,178.18 L325.21,178.17 L325.63,178.16 L326.05,178.15 L326.47,178.14 L326.89,178.13 L327.31,178.12 L327.73,178.10 L328.15,178.09 L328.57,178.08 L328.99,178.07 L329.41,178.06 L329.83,178.05 L330.25,178.04 L330.67,178.03 L331.09,178.02 L331.51,178.01 L331.93,178.00 L332.35,177.99 L332.77,177.98 L333.19,177.97 L333.61,177.96 L334.03,177.94 L334.45,177.93 L334.87,177.92 L335.29,177.91 L335.71,177.90 L336.13,177.89 L336.55,177.88 L336.97,177.87 L337.39,177.86 L337.82,177.85 L338.24,177.84 L338.66,177.83 L339.08,177.82 L339.50,177.81 L339.92,177.80 L340.34,177.79 L340.76,177.78 L341.18,177.77 L341.60,177.76 L342.02,177.75 L342.44,177.74 L342.86,177.73 L343.28,177.72 L343.70,177.71 L344.12,177.70 L344.54,177.69 L344.96,177.68 L345.38,177.67 L345.80,177.66 L346.22,177.65 L346.64,177.64 L347.06,177.63 L347.48,177.62 L347.90,177.61 L348.32,177.60 L348.74,177.59 L349.16,177.58 L349.58,177.57 L350.00,177.57" fill="none" stroke="#ff00ff" stroke-width="2.8" stroke-opacity="0.25"/>
<path d="M220.00,191.57 L220.27,191.42 L220.54,191.28 L220.81,191.13 L221.08,190.99 L221.34,190.84 L221.61,190.70 L221.88,190.55 L222.15,190.41 L222.42,190.26 L222.69,190.11 L222.96,189.97 L223.23,189.82 L223.50,189.67 L223.76,189.52 L224.03,189.36 L224.30,189.21 L224.57,189.05 L224.84,188.89 L225.11,188.73 L225.38,188.57 L225.65,188.41 L225.92,188.25 L226.18,188.08 L226.45,187.92 L226.72,187.75 L226.99,187.58 L227.26,187.41 L227.53,187.25 L227.80,187.08 L228.07,186.90 L228.34,186.73 L228.61,186.56 L228.87,186.39 L229.14,186.21 L229.41,186.04 L229.68,185.86 L229.95,185.69 L230.22,185.51 L230.49,185.33 L230.76,185.15 L231.03,184.97 L231.29,184.79 L231.56,184.61 L231.83,184.43 L232.10,184.25 L232.37,184.07 L232.64,183.89 L232.91,183.71 L233.18,183.52 L233.45,183.34 L233.71,183.16 L233.98,182.97 L234.25,182.79 L234.52,182.60 L234.79,182.41 L235.06,182.22 L235.33,182.02 L235.60,181.83 L235.87,181.63 L236.13,181.44 L236.40,181.24 L236.67,181.04 L236.94,180.84 L237.21,180.64 L237.48,180.43 L237.75,180.23 L238.02,180.03 L238.29,179.83 L238.55,179.63 L238.82,179.43 L239.09,179.22 L239.36,179.02 L239.63,178.82 L239.90,178.62 L240.17,178.43 L240.44,178.23 L240.71,178.03 L240.97,177.84 L241.24,177.65 L241.51,177.45 L241.78,177.26 L242.05,177.08 L242.32,176.89 L242.59,176.71 L242.86,176.53 L243.13,176.35 L243.39,176.17 L243.66,176.00 L243.93,175.82 L244.20,175.65 L244.47,175.48 L244.74,175.31 L245.01,175.14 L245.28,174.98 L245.55,174.81 L245.82,174.64 L246.08,174.48 L246.35,174.32 L246.62,174.15 L246.89,173.99 L247.16,173.83 L247.43,173.67 L247.70,173.51 L247.97,173.35 L248.24,173.19 L248.50,173.03 L248.77,172.88 L249.04,172.72 L249.31,172.56 L249.58,172.41 L249.85,172.25 L250.12,172.09 L250.39,171.94 L250.66,171.78 L250.92,171.63 L251.19,171.47 L251.46,171.32 L251.73,171.16 L252.00,171.01" fill="none" stroke="#0000ff" stroke-width="1.0" stroke-opacity="0.45"/>
<path d="M101.80,139.00 L102.02,139.08 L102.24,139.17 L102.46,139.25 L102.68,139.33 L102.90,139.41 L103.12,139.49 L103.34,139.57 L103.56,139.65 L103.78,139.72 L104.00,139.80 L104.22,139.87 L104.44,139.94 L104.66,140.01 L104.88,140.08 L105.10,140.15 L105.32,140.21 L105.54,140.28 L105.76,140.34 L105.98,140.40 L106.20,140.45 L106.42,140.51 L106.64,140.56 L106.86,140.62 L107.08,140.67 L107.30,140.72 L107.52,140.78 L107.74,140.83 L107.96,140.88 L108.18,140.93 L108.41,140.98 L108.63,141.03 L108.85,141.07 L109.07,141.12 L109.29,141.17 L109.51,141.21 L109.73,141.26 L109.95,141.30 L110.17,141.34 L110.39,141.39 L110.61,141.43 L110.83,141.47 L111.05,141.51 L111.27,141.55 L111.49,141.59 L111.71,141.63 L111.93,141.67 L112.15,141.71 L112.37,141.75 L112.59,141.78 L112.81,141.82 L113.03,141.86 L113.25,141.89 L113.47,141.93 L113.69,141.96 L113.91,142.00 L114.13,142.03 L114.35,142.07 L114.57,142.10 L114.79,142.14 L115.01,142.17 L115.23,142.21 L115.45,142.24 L115.67,142.28 L115.89,142.31 L116.11,142.35 L116.33,142.38 L116.55,142.42 L116.77,142.45 L116.99,142.49 L117.21,142.52 L117.43,142.56 L117.65,142.59 L117.87,142.62 L118.09,142.66 L118.31,142.69 L118.53,142.73 L118.75,142.76 L118.97,142.79 L119.19,142.82 L119.41,142.86 L119.63,142.89 L119.85,142.92 L120.07,142.95 L120.29,142.98 L120.51,143.01 L120.73,143.04 L120.95,143.07 L121.17,143.10 L121.39,143.13 L121.62,143.16 L121.84,143.19 L122.06,143.22 L122.28,143.24 L122.50,143.27 L122.72,143.30 L122.94,143.32 L123.16,143.35 L123.38,143.38 L123.60,143.40 L123.82,143.42 L124.04,143.45 L124.26,143.47 L124.48,143.49 L124.70,143.52 L124.92,143.54 L125.14,143.56 L125.36,143.58 L125.58,143.60 L125.80,143.62 L126.02,143.64 L126.24,143.66 L126.46,143.67 L126.68,143.69 L126.90,143.71 L127.12,143.72 L127.34,143.74 L127.56,143.75 L127.78,143.76 L128.00,143.77" fill="none" stroke="#0000ff" stroke-width="2.7" stroke-opacity="0.7"/>
<path d="M101.80,173.60 L102.02,173.69 L102.24,173.77 L102.46,173.86 L102.68,173.94 L102.90,174.02 L103.12,174.10 L103.34,174.18 L103.56,174.26 L103.78,174.34 L104.00,174.41 L104.22,174.49 L104.44,174.56 L104.66,174.63 L104.88,174.70 L105.10,174.76 L105.32,174.82 L105.54,174.88 L105.76,174.94 L105.98,175.00 L106.20,175.05 L106.42,175.10 L106.64,175.15 L106.86,175.20 L107.08,175.25 L107.30,175.29 L107.52,175.34 L107.74,175.38 L107.96,175.43 L108.18,175.47 L108.41,175.51 L108.63,175.56 L108.85,175.60 L109.07,175.64 L109.29,175.68 L109.51,175.71 L109.73,175.75 L109.95,175.79 L110.17,175.83 L110.39,175.86 L110.61,175.90 L110.83,175.93 L111.05,175.97 L111.27,176.00 L111.49,176.04 L111.71,176.07 L111.93,176.10 L112.15,176.13 L112.37,176.17 L112.59,176.20 L112.81,176.23 L113.03,176.26 L113.25,176.29 L113.47,176.32 L113.69,176.35 L113.91,176.39 L114.13,176.42 L114.35,176.45 L114.57,176.48 L114.79,176.51 L115.01,176.54 L115.23,176.57 L115.45,176.60 L115.67,176.64 L115.89,176.67 L116.11,176.70 L116.33,176.73 L116.55,176.76 L116.77,176.79 L116.99,176.82 L117.21,176.85 L117.43,176.88 L117.65,176.91 L117.87,176.94 L118.09,176.97 L118.31,177.00 L118.53,177.03 L118.75,177.06 L118.97,177.09 L119.19,177.12 L119.41,177.15 L119.63,177.17 L119.85,177.20 L120.07,177.23 L120.29,177.26 L120.51,177.28 L120.73,177.31 L120.95,177.34 L121.17,177.36 L121.39,177.39 L121.62,177.42 L121.84,177.44 L122.06,177.47 L122.28,177.49 L122.50,177.52 L122.72,177.54 L122.94,177.56 L123.16,177.59 L123.38,177.61 L123.60,177.63 L123.82,177.65 L124.04,177.68 L124.26,177.70 L124.48,177.72 L124.70,177.74 L124.92,177.76 L125.14,177.78 L125.36,177.79 L125.58,177.81 L125.80,177.83 L126.02,177.85 L126.24,177.86 L126.46,177.88 L126.68,177.90 L126.90,177.91 L127.12,177.92 L127.34,177.94 L127.56,177.95 L127.78,177.96 L128.00,177.98" fill="none" stroke="#00ff00" stroke-width="2.9" stroke-opacity="0.8"/>
<path d="M503.8,255.4 L545.0,255.4" fill="none" stroke="#ff0000" stroke-width="0.95"/>
<path d="M503.8,271.0 L545.0,271.0" fill="none" stroke="#0000ff" stroke-width="1.1" stroke-dasharray="3 1.1"/>
<path d="M503.8,286.3 L545.0,286.3" fill="none" stroke="#00ff00" stroke-width="1.1" stroke-dasharray="1 2.5"/>
<path d="M503.8,301.6 L545.0,301.6" fill="none" stroke="#0000ff" stroke-width="2.9" stroke-dasharray="1.4 0.8"/>
<path d="M503.8,316.7 L545.0,316.7" fill="none" stroke="#00ff00" stroke-width="2.9" stroke-dasharray="4.8 1 0.8 1.07"/>
<path d="M503.8,332.0 L545.0,332.0" fill="none" stroke="#ff00ff" stroke-width="2.9" stroke-dasharray="2 2 0.8 2.24"/>
<rect x="102.55" y="17.9" width="460.90000000000003" height="326.05" fill="none" stroke="#000" stroke-width="1.1"/>
<path d="M102.50,343.95 v-4.1 M102.50,17.9 v4.1 M160.06,343.95 v-4.1 M160.06,17.9 v4.1 M217.62,343.95 v-4.1 M217.62,17.9 v4.1 M275.19,343.95 v-4.1 M275.19,17.9 v4.1 M332.75,343.95 v-4.1 M332.75,17.9 v4.1 M390.31,343.95 v-4.1 M390.31,17.9 v4.1 M447.88,343.95 v-4.1 M447.88,17.9 v4.1 M505.44,343.95 v-4.1 M505.44,17.9 v4.1 M563.00,343.95 v-4.1 M563.00,17.9 v4.1 M102.55,17.90 h4.2 M563.45,17.90 h-4.2 M102.55,35.06 h2.1 M563.45,35.06 h-2.1 M102.55,52.22 h4.2 M563.45,52.22 h-4.2 M102.55,69.38 h2.1 M563.45,69.38 h-2.1 M102.55,86.54 h4.2 M563.45,86.54 h-4.2 M102.55,103.70 h2.1 M563.45,103.70 h-2.1 M102.55,120.86 h4.2 M563.45,120.86 h-4.2 M102.55,138.02 h2.1 M563.45,138.02 h-2.1 M102.55,155.18 h4.2 M563.45,155.18 h-4.2 M102.55,172.34 h2.1 M563.45,172.34 h-2.1 M102.55,189.51 h4.2 M563.45,189.51 h-4.2 M102.55,206.67 h2.1 M563.45,206.67 h-2.1 M102.55,223.83 h4.2 M563.45,223.83 h-4.2 M102.55,240.99 h2.1 M563.45,240.99 h-2.1 M102.55,258.15 h4.2 M563.45,258.15 h-4.2 M102.55,275.31 h2.1 M563.45,275.31 h-2.1 M102.55,292.47 h4.2 M563.45,292.47 h-4.2 M102.55,309.63 h2.1 M563.45,309.63 h-2.1 M102.55,326.79 h4.2 M563.45,326.79 h-4.2 M102.55,343.95 h2.1 M563.45,343.95 h-2.1" fill="none" stroke="#000" stroke-width="1"/>
</svg>
</body></html>
